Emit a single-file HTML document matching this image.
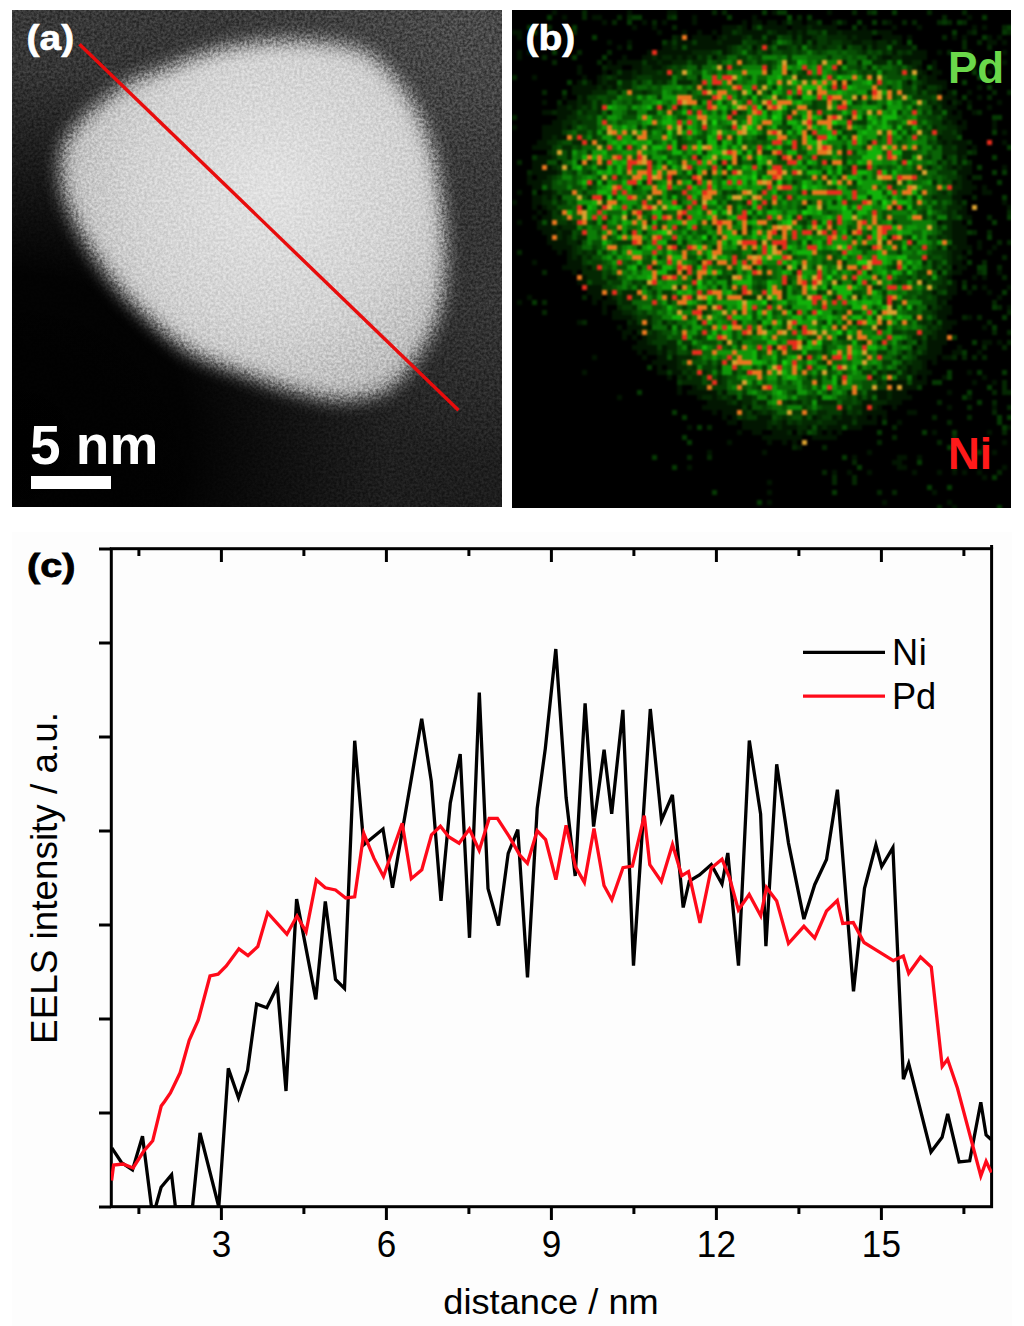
<!DOCTYPE html>
<html><head><meta charset="utf-8"><title>figure</title>
<style>
html,body{margin:0;padding:0;background:#fff;}
body{width:1024px;height:1326px;overflow:hidden;position:relative;}
svg{position:absolute;left:0;top:0;display:block;}
text{font-family:"Liberation Sans",sans-serif;}
</style></head><body>
<svg width="1024" height="1326" viewBox="0 0 1024 1326">
<defs>
<clipPath id="ca"><rect x="12" y="10" width="490" height="497"/></clipPath>
<clipPath id="cb"><rect x="512" y="10" width="499" height="498"/></clipPath>
<clipPath id="cc"><rect x="111" y="549" width="881" height="658"/></clipPath>
<filter color-interpolation-filters="sRGB" id="bA" x="-30%" y="-30%" width="160%" height="160%"><feGaussianBlur stdDeviation="9"/></filter>
<filter color-interpolation-filters="sRGB" id="soft" x="0" y="0" width="100%" height="100%"><feGaussianBlur stdDeviation="0.9"/></filter>
<filter color-interpolation-filters="sRGB" id="nA" x="12" y="10" width="490" height="497" filterUnits="userSpaceOnUse"><feTurbulence type="fractalNoise" baseFrequency="0.38" numOctaves="2" seed="5"/><feColorMatrix type="matrix" values="1.9 0 0 0 -0.45  1.9 0 0 0 -0.45  1.9 0 0 0 -0.45  0 0 0 0 1"/></filter>
<linearGradient id="bgAv" x1="0" y1="10" x2="0" y2="507" gradientUnits="userSpaceOnUse"><stop offset="0" stop-color="#383838"/><stop offset="1" stop-color="#1c1c1c"/></linearGradient>
<radialGradient id="bgAk" cx="20" cy="440" r="370" gradientUnits="userSpaceOnUse"><stop offset="0" stop-color="#000"/><stop offset="0.45" stop-color="#000" stop-opacity="0.95"/><stop offset="0.75" stop-color="#000" stop-opacity="0.45"/><stop offset="1" stop-color="#000" stop-opacity="0"/></radialGradient>
<radialGradient id="bgA1" cx="470" cy="20" r="260" gradientUnits="userSpaceOnUse"><stop offset="0" stop-color="#4a4a4a"/><stop offset="1" stop-color="#4a4a4a" stop-opacity="0"/></radialGradient>
<radialGradient id="bgA3" cx="500" cy="280" r="180" gradientUnits="userSpaceOnUse"><stop offset="0" stop-color="#363636"/><stop offset="1" stop-color="#363636" stop-opacity="0"/></radialGradient>
<radialGradient id="blA" cx="270" cy="190" r="230" gradientUnits="userSpaceOnUse"><stop offset="0" stop-color="#e2e2e2"/><stop offset="0.6" stop-color="#d2d2d2"/><stop offset="1" stop-color="#b8b8b8"/></radialGradient>
</defs>

<!-- panel a -->
<g clip-path="url(#ca)">
<rect x="12" y="10" width="490" height="497" fill="url(#bgAv)"/>
<rect x="12" y="10" width="490" height="497" fill="url(#bgA1)"/>
<rect x="12" y="10" width="490" height="497" fill="url(#bgA3)"/>
<rect x="12" y="10" width="490" height="497" fill="url(#bgAk)"/>
<path d="M155.5,72.2 C168.0,67.7 192.2,55.9 213.0,50.7 C233.8,45.5 257.7,41.9 280.0,41.1 C302.3,40.3 330.3,42.3 347.0,45.9 C363.7,49.5 369.2,52.6 380.4,62.6 C391.5,72.6 405.1,90.5 413.9,105.7 C422.7,120.9 428.2,135.9 433.0,153.5 C437.8,171.1 440.6,191.8 442.6,211.0 C444.6,230.2 445.8,250.9 445.0,268.4 C444.2,285.9 442.3,301.8 437.9,316.2 C433.5,330.6 426.7,342.5 418.7,354.5 C410.7,366.5 401.9,380.4 390.0,388.0 C378.1,395.6 362.2,399.2 347.0,400.0 C331.8,400.8 316.6,397.2 299.0,392.8 C281.4,388.4 259.2,380.0 241.7,373.6 C224.2,367.2 208.2,362.5 193.8,354.5 C179.4,346.5 168.2,337.0 155.5,325.8 C142.8,314.6 129.2,301.9 117.3,287.5 C105.3,273.1 92.8,255.6 83.8,239.7 C74.8,223.8 66.6,206.9 63.0,192.0 C59.4,177.1 59.2,161.8 62.0,150.0 C64.8,138.2 71.7,130.3 80.0,121.0 C88.3,111.7 102.3,101.2 112.0,94.0 C121.7,86.8 130.8,81.6 138.0,78.0 C145.2,74.4 143.0,76.8 155.5,72.2Z" fill="url(#blA)" filter="url(#bA)"/>
<rect x="12" y="10" width="490" height="497" filter="url(#nA)" style="mix-blend-mode:overlay" opacity="0.35"/>
<line x1="79.5" y1="44.2" x2="458.5" y2="410.3" stroke="#e80c0c" stroke-width="3.4"/>
</g>
<text transform="translate(26.5,50) scale(1.13,1)" font-size="34.5" font-weight="bold" fill="#fff" stroke="#fff" stroke-width="0.6">(a)</text>
<text x="30" y="463.5" font-size="55" font-weight="bold" fill="#fff">5 nm</text>
<rect x="31" y="476" width="80" height="13" fill="#fff"/>

<!-- panel b -->
<g clip-path="url(#cb)">
<rect x="512" y="10" width="499" height="498" fill="#000"/>
<g filter="url(#soft)">
<path fill="#021601" d="M552 10h5v5h-5zM627 10h5v5h-5zM667 10h10v5h-10zM772 10h5v5h-5zM827 10h5v5h-5zM562 15h5v5h-5zM592 15h10v5h-10zM692 15h5v5h-5zM752 15h5v5h-5zM967 15h5v5h-5zM602 20h5v5h-5zM642 20h5v5h-5zM662 20h5v5h-5zM692 20h5v5h-5zM742 20h5v5h-5zM752 20h10v5h-10zM767 20h10v5h-10zM782 20h5v5h-5zM792 20h10v5h-10zM807 20h10v5h-10zM832 20h5v5h-5zM842 20h5v5h-5zM887 20h5v5h-5zM632 25h5v5h-5zM652 25h5v5h-5zM722 25h15v5h-15zM742 25h5v5h-5zM762 25h25v5h-25zM792 25h15v5h-15zM812 25h25v5h-25zM862 25h5v5h-5zM892 25h5v5h-5zM917 25h5v5h-5zM972 25h5v5h-5zM982 25h5v5h-5zM512 30h10v5h-10zM657 30h5v5h-5zM682 30h5v5h-5zM697 30h5v5h-5zM712 30h5v5h-5zM722 30h10v5h-10zM742 30h25v5h-25zM777 30h10v5h-10zM792 30h5v5h-5zM802 30h5v5h-5zM827 30h10v5h-10zM842 30h30v5h-30zM877 30h15v5h-15zM967 30h5v5h-5zM517 35h5v5h-5zM677 35h5v5h-5zM692 35h20v5h-20zM717 35h5v5h-5zM727 35h15v5h-15zM752 35h10v5h-10zM767 35h10v5h-10zM792 35h5v5h-5zM802 35h10v5h-10zM847 35h5v5h-5zM857 35h15v5h-15zM882 35h20v5h-20zM907 35h5v5h-5zM952 35h5v5h-5zM962 35h5v5h-5zM987 35h5v5h-5zM997 35h5v5h-5zM607 40h5v5h-5zM627 40h5v5h-5zM667 40h5v5h-5zM677 40h15v5h-15zM697 40h20v5h-20zM722 40h20v5h-20zM767 40h5v5h-5zM802 40h5v5h-5zM812 40h5v5h-5zM852 40h10v5h-10zM872 40h5v5h-5zM887 40h5v5h-5zM897 40h5v5h-5zM987 40h10v5h-10zM1002 40h5v5h-5zM617 45h5v5h-5zM662 45h10v5h-10zM677 45h5v5h-5zM687 45h40v5h-40zM752 45h5v5h-5zM842 45h5v5h-5zM862 45h5v5h-5zM872 45h5v5h-5zM892 45h20v5h-20zM517 50h5v5h-5zM527 50h5v5h-5zM647 50h5v5h-5zM657 50h35v5h-35zM722 50h5v5h-5zM892 50h5v5h-5zM912 50h15v5h-15zM937 50h5v5h-5zM967 50h5v5h-5zM1002 50h5v5h-5zM517 55h5v5h-5zM622 55h5v5h-5zM642 55h10v5h-10zM657 55h5v5h-5zM672 55h5v5h-5zM682 55h5v5h-5zM692 55h5v5h-5zM712 55h5v5h-5zM882 55h10v5h-10zM902 55h25v5h-25zM607 60h5v5h-5zM617 60h25v5h-25zM647 60h10v5h-10zM662 60h10v5h-10zM902 60h10v5h-10zM932 60h5v5h-5zM987 60h5v5h-5zM1002 60h5v5h-5zM577 65h5v5h-5zM607 65h15v5h-15zM632 65h10v5h-10zM652 65h10v5h-10zM917 65h5v5h-5zM932 65h5v5h-5zM972 65h5v5h-5zM992 65h5v5h-5zM577 70h5v5h-5zM602 70h5v5h-5zM612 70h5v5h-5zM622 70h10v5h-10zM637 70h5v5h-5zM922 70h5v5h-5zM932 70h10v5h-10zM532 75h5v5h-5zM582 75h5v5h-5zM597 75h5v5h-5zM617 75h15v5h-15zM917 75h5v5h-5zM927 75h10v5h-10zM577 80h5v5h-5zM587 80h5v5h-5zM597 80h5v5h-5zM607 80h10v5h-10zM907 80h5v5h-5zM927 80h20v5h-20zM572 85h25v5h-25zM602 85h5v5h-5zM612 85h5v5h-5zM922 85h5v5h-5zM942 85h5v5h-5zM977 85h5v5h-5zM572 90h20v5h-20zM937 90h5v5h-5zM947 90h5v5h-5zM967 90h5v5h-5zM562 95h5v5h-5zM582 95h5v5h-5zM942 95h15v5h-15zM977 95h5v5h-5zM542 100h5v5h-5zM567 100h10v5h-10zM582 100h5v5h-5zM942 100h5v5h-5zM957 100h5v5h-5zM967 100h5v5h-5zM997 100h5v5h-5zM557 105h10v5h-10zM572 105h5v5h-5zM932 105h5v5h-5zM942 105h15v5h-15zM987 105h5v5h-5zM542 110h10v5h-10zM557 110h15v5h-15zM947 110h5v5h-5zM957 110h5v5h-5zM972 110h5v5h-5zM557 115h10v5h-10zM947 115h15v5h-15zM552 120h10v5h-10zM942 120h5v5h-5zM952 120h5v5h-5zM962 120h5v5h-5zM992 120h5v5h-5zM512 125h5v5h-5zM542 125h20v5h-20zM567 125h5v5h-5zM957 125h10v5h-10zM992 125h5v5h-5zM542 130h20v5h-20zM957 130h5v5h-5zM1002 130h5v5h-5zM542 135h10v5h-10zM557 135h10v5h-10zM937 135h5v5h-5zM537 140h10v5h-10zM942 140h5v5h-5zM952 140h15v5h-15zM1002 140h5v5h-5zM532 145h20v5h-20zM957 145h10v5h-10zM972 145h5v5h-5zM957 150h10v5h-10zM537 155h15v5h-15zM942 155h5v5h-5zM957 155h5v5h-5zM532 160h15v5h-15zM557 160h5v5h-5zM957 160h5v5h-5zM532 165h10v5h-10zM547 165h5v5h-5zM952 165h5v5h-5zM962 165h10v5h-10zM1002 165h5v5h-5zM532 170h25v5h-25zM957 170h15v5h-15zM527 175h5v5h-5zM537 175h10v5h-10zM962 175h5v5h-5zM527 180h15v5h-15zM952 180h5v5h-5zM962 180h10v5h-10zM532 185h10v5h-10zM962 185h15v5h-15zM982 185h5v5h-5zM517 190h5v5h-5zM542 190h10v5h-10zM957 190h15v5h-15zM982 190h10v5h-10zM532 195h10v5h-10zM547 195h5v5h-5zM557 195h5v5h-5zM952 195h10v5h-10zM512 200h5v5h-5zM532 200h10v5h-10zM957 200h5v5h-5zM1002 200h5v5h-5zM532 205h5v5h-5zM542 205h5v5h-5zM962 205h5v5h-5zM1007 205h5v5h-5zM537 210h5v5h-5zM547 210h5v5h-5zM957 210h10v5h-10zM532 215h5v5h-5zM542 215h10v5h-10zM962 215h10v5h-10zM517 220h5v5h-5zM537 220h5v5h-5zM547 220h5v5h-5zM937 220h5v5h-5zM952 220h10v5h-10zM537 225h15v5h-15zM557 225h5v5h-5zM952 225h15v5h-15zM542 230h15v5h-15zM562 230h10v5h-10zM952 230h15v5h-15zM547 235h5v5h-5zM562 235h5v5h-5zM952 235h15v5h-15zM547 240h20v5h-20zM577 240h5v5h-5zM952 240h15v5h-15zM977 240h5v5h-5zM552 245h20v5h-20zM947 245h5v5h-5zM957 245h15v5h-15zM977 245h5v5h-5zM992 245h5v5h-5zM557 250h5v5h-5zM567 250h5v5h-5zM952 250h10v5h-10zM987 250h5v5h-5zM567 255h5v5h-5zM577 255h5v5h-5zM952 255h5v5h-5zM962 255h5v5h-5zM532 260h5v5h-5zM567 260h15v5h-15zM952 260h10v5h-10zM562 265h20v5h-20zM587 265h5v5h-5zM957 265h10v5h-10zM572 270h5v5h-5zM937 270h5v5h-5zM952 270h10v5h-10zM997 270h5v5h-5zM582 275h5v5h-5zM947 275h5v5h-5zM972 275h5v5h-5zM982 275h5v5h-5zM577 280h10v5h-10zM952 280h5v5h-5zM587 285h15v5h-15zM947 285h10v5h-10zM982 285h5v5h-5zM1007 285h5v5h-5zM587 290h15v5h-15zM932 290h5v5h-5zM947 290h10v5h-10zM967 290h5v5h-5zM987 290h5v5h-5zM527 295h5v5h-5zM592 295h10v5h-10zM607 295h5v5h-5zM937 295h15v5h-15zM997 295h5v5h-5zM517 300h5v5h-5zM592 300h5v5h-5zM602 300h15v5h-15zM937 300h5v5h-5zM602 305h5v5h-5zM927 305h5v5h-5zM942 305h10v5h-10zM1007 305h5v5h-5zM602 310h5v5h-5zM612 310h10v5h-10zM937 310h15v5h-15zM612 315h20v5h-20zM937 315h10v5h-10zM967 315h5v5h-5zM577 320h5v5h-5zM632 320h5v5h-5zM932 320h5v5h-5zM942 320h15v5h-15zM617 325h5v5h-5zM627 325h15v5h-15zM647 325h5v5h-5zM942 325h10v5h-10zM982 325h5v5h-5zM622 330h10v5h-10zM937 330h10v5h-10zM622 335h5v5h-5zM632 335h5v5h-5zM642 335h5v5h-5zM927 335h5v5h-5zM937 335h10v5h-10zM637 340h10v5h-10zM917 340h5v5h-5zM927 340h20v5h-20zM982 340h10v5h-10zM997 340h5v5h-5zM632 345h25v5h-25zM662 345h5v5h-5zM912 345h5v5h-5zM927 345h15v5h-15zM957 345h5v5h-5zM637 350h5v5h-5zM647 350h10v5h-10zM662 350h5v5h-5zM927 350h15v5h-15zM952 350h10v5h-10zM977 350h5v5h-5zM592 355h5v5h-5zM642 355h5v5h-5zM657 355h10v5h-10zM672 355h5v5h-5zM917 355h20v5h-20zM942 355h10v5h-10zM652 360h25v5h-25zM922 360h5v5h-5zM932 360h5v5h-5zM657 365h5v5h-5zM667 365h10v5h-10zM907 365h5v5h-5zM922 365h5v5h-5zM582 370h5v5h-5zM657 370h10v5h-10zM672 370h10v5h-10zM907 370h5v5h-5zM917 370h15v5h-15zM967 370h5v5h-5zM667 375h5v5h-5zM682 375h5v5h-5zM912 375h5v5h-5zM922 375h5v5h-5zM942 375h5v5h-5zM982 375h5v5h-5zM887 380h20v5h-20zM912 380h15v5h-15zM972 380h5v5h-5zM992 380h5v5h-5zM677 385h5v5h-5zM692 385h5v5h-5zM892 385h5v5h-5zM902 385h15v5h-15zM677 390h5v5h-5zM687 390h30v5h-30zM722 390h5v5h-5zM877 390h10v5h-10zM892 390h15v5h-15zM947 390h5v5h-5zM617 395h5v5h-5zM697 395h5v5h-5zM712 395h5v5h-5zM732 395h5v5h-5zM877 395h10v5h-10zM892 395h20v5h-20zM967 395h5v5h-5zM707 400h20v5h-20zM737 400h5v5h-5zM862 400h10v5h-10zM887 400h15v5h-15zM702 405h40v5h-40zM747 405h5v5h-5zM862 405h5v5h-5zM877 405h5v5h-5zM892 405h5v5h-5zM947 405h5v5h-5zM992 405h5v5h-5zM712 410h5v5h-5zM722 410h15v5h-15zM752 410h5v5h-5zM842 410h5v5h-5zM862 410h25v5h-25zM907 410h10v5h-10zM722 415h5v5h-5zM732 415h5v5h-5zM757 415h15v5h-15zM812 415h5v5h-5zM832 415h5v5h-5zM842 415h10v5h-10zM857 415h10v5h-10zM872 415h5v5h-5zM882 415h5v5h-5zM727 420h10v5h-10zM742 420h25v5h-25zM782 420h5v5h-5zM837 420h15v5h-15zM857 420h20v5h-20zM897 420h5v5h-5zM687 425h5v5h-5zM742 425h25v5h-25zM772 425h5v5h-5zM782 425h15v5h-15zM807 425h5v5h-5zM817 425h5v5h-5zM827 425h15v5h-15zM847 425h15v5h-15zM1007 425h5v5h-5zM737 430h5v5h-5zM752 430h10v5h-10zM772 430h15v5h-15zM802 430h5v5h-5zM817 430h5v5h-5zM827 430h5v5h-5zM837 430h5v5h-5zM932 430h5v5h-5zM987 430h5v5h-5zM762 435h40v5h-40zM812 435h25v5h-25zM727 440h5v5h-5zM767 440h5v5h-5zM782 440h5v5h-5zM792 440h5v5h-5zM1002 440h5v5h-5zM797 445h5v5h-5zM972 445h5v5h-5zM707 450h5v5h-5zM762 450h5v5h-5zM867 450h5v5h-5zM992 450h5v5h-5zM852 455h5v5h-5zM897 455h10v5h-10zM917 455h5v5h-5zM892 460h10v5h-10zM687 465h5v5h-5zM897 465h10v5h-10zM1002 465h5v5h-5zM832 470h5v5h-5zM847 470h5v5h-5zM867 470h5v5h-5zM912 470h5v5h-5zM937 470h5v5h-5zM952 470h5v5h-5zM962 470h5v5h-5zM977 470h5v5h-5zM982 475h5v5h-5zM767 480h5v5h-5zM767 490h5v5h-5zM932 490h5v5h-5zM767 500h5v5h-5zM882 500h5v5h-5zM947 500h5v5h-5zM952 505h5v5h-5z"/>
<path fill="#042802" d="M582 10h5v5h-5zM712 10h5v5h-5zM722 10h5v5h-5zM852 10h5v5h-5zM867 10h5v5h-5zM927 10h5v5h-5zM962 10h5v5h-5zM582 15h5v5h-5zM617 15h5v5h-5zM627 15h5v5h-5zM667 15h5v5h-5zM797 15h5v5h-5zM942 15h5v5h-5zM612 20h5v5h-5zM652 20h5v5h-5zM882 20h5v5h-5zM902 20h5v5h-5zM912 20h5v5h-5zM937 20h5v5h-5zM947 20h5v5h-5zM962 20h5v5h-5zM547 25h5v5h-5zM672 25h5v5h-5zM737 25h5v5h-5zM752 25h5v5h-5zM807 25h5v5h-5zM1002 25h5v5h-5zM572 30h5v5h-5zM737 30h5v5h-5zM772 30h5v5h-5zM787 30h5v5h-5zM797 30h5v5h-5zM817 30h5v5h-5zM837 30h5v5h-5zM972 30h5v5h-5zM1007 30h5v5h-5zM672 35h5v5h-5zM722 35h5v5h-5zM742 35h5v5h-5zM812 35h5v5h-5zM827 35h20v5h-20zM852 35h5v5h-5zM942 35h5v5h-5zM717 40h5v5h-5zM757 40h10v5h-10zM792 40h5v5h-5zM827 40h5v5h-5zM842 40h10v5h-10zM862 40h10v5h-10zM877 40h10v5h-10zM962 40h5v5h-5zM977 40h5v5h-5zM627 45h5v5h-5zM672 45h5v5h-5zM727 45h5v5h-5zM777 45h10v5h-10zM797 45h5v5h-5zM812 45h5v5h-5zM822 45h5v5h-5zM877 45h10v5h-10zM962 45h5v5h-5zM987 45h5v5h-5zM577 50h5v5h-5zM607 50h5v5h-5zM692 50h20v5h-20zM727 50h5v5h-5zM752 50h5v5h-5zM767 50h5v5h-5zM862 50h5v5h-5zM882 50h5v5h-5zM902 50h5v5h-5zM947 50h5v5h-5zM542 55h5v5h-5zM652 55h5v5h-5zM662 55h10v5h-10zM677 55h5v5h-5zM687 55h5v5h-5zM702 55h5v5h-5zM867 55h5v5h-5zM877 55h5v5h-5zM892 55h10v5h-10zM552 60h5v5h-5zM597 60h5v5h-5zM657 60h5v5h-5zM672 60h15v5h-15zM692 60h15v5h-15zM842 60h5v5h-5zM857 60h5v5h-5zM872 60h15v5h-15zM892 60h5v5h-5zM912 60h10v5h-10zM972 60h5v5h-5zM602 65h5v5h-5zM642 65h10v5h-10zM662 65h5v5h-5zM697 65h5v5h-5zM867 65h5v5h-5zM912 65h5v5h-5zM952 65h5v5h-5zM632 70h5v5h-5zM642 70h15v5h-15zM662 70h5v5h-5zM917 70h5v5h-5zM987 70h5v5h-5zM512 75h5v5h-5zM602 75h5v5h-5zM612 75h5v5h-5zM632 75h5v5h-5zM652 75h20v5h-20zM697 75h5v5h-5zM922 75h5v5h-5zM602 80h5v5h-5zM622 80h10v5h-10zM637 80h5v5h-5zM652 80h5v5h-5zM662 80h5v5h-5zM677 80h15v5h-15zM922 80h5v5h-5zM597 85h5v5h-5zM607 85h5v5h-5zM622 85h10v5h-10zM917 85h5v5h-5zM937 85h5v5h-5zM542 90h5v5h-5zM592 90h15v5h-15zM617 90h5v5h-5zM642 90h5v5h-5zM917 90h5v5h-5zM927 90h10v5h-10zM992 90h5v5h-5zM1007 90h5v5h-5zM577 95h5v5h-5zM987 95h5v5h-5zM557 100h5v5h-5zM577 100h5v5h-5zM587 100h5v5h-5zM597 100h5v5h-5zM927 100h5v5h-5zM937 100h5v5h-5zM952 100h5v5h-5zM567 105h5v5h-5zM577 105h5v5h-5zM587 105h5v5h-5zM597 105h5v5h-5zM967 105h5v5h-5zM552 110h5v5h-5zM572 110h5v5h-5zM582 110h5v5h-5zM597 110h5v5h-5zM607 110h5v5h-5zM932 110h10v5h-10zM977 110h5v5h-5zM512 115h5v5h-5zM567 115h10v5h-10zM942 115h5v5h-5zM562 120h10v5h-10zM577 120h5v5h-5zM947 120h5v5h-5zM562 125h5v5h-5zM932 125h5v5h-5zM947 125h10v5h-10zM942 130h10v5h-10zM552 135h5v5h-5zM942 135h15v5h-15zM547 140h10v5h-10zM572 140h10v5h-10zM937 140h5v5h-5zM947 140h5v5h-5zM967 140h5v5h-5zM562 145h10v5h-10zM942 145h10v5h-10zM547 150h5v5h-5zM567 150h5v5h-5zM942 150h15v5h-15zM972 150h5v5h-5zM552 155h5v5h-5zM567 155h5v5h-5zM962 155h5v5h-5zM517 160h5v5h-5zM577 160h5v5h-5zM937 160h5v5h-5zM947 160h5v5h-5zM967 160h5v5h-5zM552 165h5v5h-5zM927 165h5v5h-5zM947 165h5v5h-5zM957 165h5v5h-5zM527 170h5v5h-5zM557 170h5v5h-5zM547 175h5v5h-5zM957 175h5v5h-5zM972 175h10v5h-10zM542 180h10v5h-10zM932 180h5v5h-5zM957 180h5v5h-5zM547 185h5v5h-5zM952 185h10v5h-10zM552 190h5v5h-5zM942 190h5v5h-5zM952 190h5v5h-5zM542 195h5v5h-5zM932 195h5v5h-5zM972 195h5v5h-5zM542 200h10v5h-10zM557 200h5v5h-5zM952 200h5v5h-5zM547 205h10v5h-10zM582 205h5v5h-5zM947 205h15v5h-15zM557 210h5v5h-5zM947 210h5v5h-5zM1007 210h5v5h-5zM947 215h5v5h-5zM987 215h5v5h-5zM567 220h5v5h-5zM942 220h10v5h-10zM552 225h5v5h-5zM562 225h15v5h-15zM947 225h5v5h-5zM557 230h5v5h-5zM942 230h10v5h-10zM972 230h5v5h-5zM987 230h5v5h-5zM557 235h5v5h-5zM567 235h5v5h-5zM577 235h10v5h-10zM937 235h5v5h-5zM947 235h5v5h-5zM567 240h10v5h-10zM997 240h5v5h-5zM1007 240h5v5h-5zM572 245h5v5h-5zM937 245h5v5h-5zM952 245h5v5h-5zM517 250h5v5h-5zM572 250h5v5h-5zM582 250h5v5h-5zM592 250h5v5h-5zM947 250h5v5h-5zM967 250h5v5h-5zM572 255h5v5h-5zM587 255h5v5h-5zM947 255h5v5h-5zM957 255h5v5h-5zM1002 255h5v5h-5zM922 260h5v5h-5zM932 260h5v5h-5zM947 260h5v5h-5zM982 260h5v5h-5zM582 265h5v5h-5zM932 265h5v5h-5zM942 265h5v5h-5zM997 265h5v5h-5zM542 270h5v5h-5zM582 270h20v5h-20zM947 270h5v5h-5zM977 270h5v5h-5zM587 275h15v5h-15zM607 275h10v5h-10zM942 275h5v5h-5zM1002 275h5v5h-5zM592 280h15v5h-15zM922 280h5v5h-5zM942 280h5v5h-5zM962 280h5v5h-5zM937 285h10v5h-10zM972 285h5v5h-5zM607 290h5v5h-5zM622 290h15v5h-15zM582 295h5v5h-5zM612 295h5v5h-5zM622 295h5v5h-5zM542 300h5v5h-5zM622 300h10v5h-10zM942 300h5v5h-5zM992 300h5v5h-5zM617 305h5v5h-5zM632 305h5v5h-5zM937 305h5v5h-5zM997 305h5v5h-5zM542 310h5v5h-5zM622 310h10v5h-10zM932 310h5v5h-5zM1007 310h5v5h-5zM632 315h5v5h-5zM647 315h5v5h-5zM962 315h5v5h-5zM977 315h5v5h-5zM582 320h5v5h-5zM627 320h5v5h-5zM647 320h5v5h-5zM662 320h5v5h-5zM922 320h5v5h-5zM987 320h5v5h-5zM642 325h5v5h-5zM667 325h5v5h-5zM927 325h5v5h-5zM937 325h5v5h-5zM637 330h5v5h-5zM652 330h5v5h-5zM932 330h5v5h-5zM992 330h5v5h-5zM1007 330h5v5h-5zM647 335h10v5h-10zM912 335h10v5h-10zM932 335h5v5h-5zM647 340h5v5h-5zM667 340h10v5h-10zM902 340h5v5h-5zM1007 340h5v5h-5zM667 345h10v5h-10zM687 345h5v5h-5zM982 345h5v5h-5zM1002 345h5v5h-5zM657 350h5v5h-5zM672 350h5v5h-5zM902 350h5v5h-5zM912 350h5v5h-5zM922 350h5v5h-5zM677 355h15v5h-15zM897 355h5v5h-5zM952 355h5v5h-5zM962 355h5v5h-5zM972 355h5v5h-5zM982 355h5v5h-5zM677 360h5v5h-5zM902 360h5v5h-5zM912 360h10v5h-10zM677 365h10v5h-10zM692 365h5v5h-5zM717 365h5v5h-5zM897 365h5v5h-5zM912 365h10v5h-10zM687 370h5v5h-5zM702 370h5v5h-5zM877 370h5v5h-5zM887 370h10v5h-10zM902 370h5v5h-5zM912 370h5v5h-5zM677 375h5v5h-5zM692 375h10v5h-10zM717 375h5v5h-5zM872 375h5v5h-5zM897 375h10v5h-10zM682 380h20v5h-20zM717 380h5v5h-5zM877 380h5v5h-5zM1002 380h5v5h-5zM697 385h10v5h-10zM1002 385h5v5h-5zM847 390h5v5h-5zM867 390h10v5h-10zM887 390h5v5h-5zM992 390h5v5h-5zM1002 390h10v5h-10zM702 395h10v5h-10zM717 395h5v5h-5zM727 395h5v5h-5zM742 395h10v5h-10zM817 395h5v5h-5zM857 395h5v5h-5zM867 395h5v5h-5zM887 395h5v5h-5zM727 400h5v5h-5zM742 400h10v5h-10zM757 400h10v5h-10zM787 400h5v5h-5zM797 400h5v5h-5zM817 400h20v5h-20zM872 400h15v5h-15zM937 400h5v5h-5zM992 400h5v5h-5zM842 405h5v5h-5zM852 405h10v5h-10zM872 405h5v5h-5zM967 405h5v5h-5zM1007 405h5v5h-5zM742 410h5v5h-5zM757 410h5v5h-5zM767 410h5v5h-5zM817 410h10v5h-10zM852 410h5v5h-5zM992 410h5v5h-5zM742 415h5v5h-5zM782 415h5v5h-5zM802 415h5v5h-5zM817 415h5v5h-5zM837 415h5v5h-5zM852 415h5v5h-5zM932 415h5v5h-5zM967 415h5v5h-5zM767 420h5v5h-5zM777 420h5v5h-5zM792 420h5v5h-5zM802 420h15v5h-15zM822 420h15v5h-15zM947 420h5v5h-5zM707 425h5v5h-5zM767 425h5v5h-5zM777 425h5v5h-5zM797 425h10v5h-10zM822 425h5v5h-5zM892 425h5v5h-5zM787 430h5v5h-5zM797 430h5v5h-5zM1002 430h5v5h-5zM892 435h5v5h-5zM952 435h5v5h-5zM877 440h5v5h-5zM937 440h5v5h-5zM792 445h5v5h-5zM822 445h5v5h-5zM982 445h5v5h-5zM687 455h5v5h-5zM707 455h5v5h-5zM852 460h5v5h-5zM952 465h5v5h-5zM822 470h5v5h-5zM997 470h5v5h-5zM832 475h5v5h-5zM852 475h5v5h-5zM832 480h5v5h-5zM852 480h5v5h-5zM877 490h5v5h-5zM892 490h5v5h-5zM937 505h5v5h-5z"/>
<path fill="#053a03" d="M762 10h5v5h-5zM777 10h10v5h-10zM872 10h5v5h-5zM892 10h5v5h-5zM547 15h5v5h-5zM632 15h10v5h-10zM672 15h5v5h-5zM727 15h5v5h-5zM807 15h5v5h-5zM982 15h5v5h-5zM627 20h5v5h-5zM787 20h5v5h-5zM817 20h5v5h-5zM837 20h5v5h-5zM857 20h5v5h-5zM872 20h5v5h-5zM942 20h5v5h-5zM957 20h5v5h-5zM527 25h5v5h-5zM572 25h5v5h-5zM852 25h5v5h-5zM1007 25h5v5h-5zM532 30h5v5h-5zM732 30h5v5h-5zM767 30h5v5h-5zM807 30h10v5h-10zM872 30h5v5h-5zM952 30h5v5h-5zM1002 30h5v5h-5zM592 35h5v5h-5zM747 35h5v5h-5zM782 35h10v5h-10zM797 35h5v5h-5zM817 35h10v5h-10zM982 35h5v5h-5zM662 40h5v5h-5zM672 40h5v5h-5zM692 40h5v5h-5zM747 40h10v5h-10zM772 40h5v5h-5zM797 40h5v5h-5zM817 40h10v5h-10zM832 40h10v5h-10zM892 40h5v5h-5zM732 45h5v5h-5zM742 45h5v5h-5zM757 45h5v5h-5zM767 45h5v5h-5zM787 45h5v5h-5zM807 45h5v5h-5zM817 45h5v5h-5zM827 45h10v5h-10zM852 45h10v5h-10zM867 45h5v5h-5zM912 45h5v5h-5zM552 50h5v5h-5zM712 50h5v5h-5zM732 50h5v5h-5zM747 50h5v5h-5zM762 50h5v5h-5zM782 50h10v5h-10zM797 50h5v5h-5zM817 50h5v5h-5zM857 50h5v5h-5zM872 50h5v5h-5zM887 50h5v5h-5zM897 50h5v5h-5zM907 50h5v5h-5zM572 55h5v5h-5zM602 55h5v5h-5zM697 55h5v5h-5zM717 55h10v5h-10zM737 55h10v5h-10zM757 55h5v5h-5zM787 55h5v5h-5zM827 55h5v5h-5zM642 60h5v5h-5zM717 60h5v5h-5zM742 60h5v5h-5zM757 60h5v5h-5zM767 60h5v5h-5zM787 60h5v5h-5zM667 65h5v5h-5zM677 65h5v5h-5zM722 65h5v5h-5zM767 65h5v5h-5zM837 65h5v5h-5zM857 65h5v5h-5zM897 65h5v5h-5zM907 65h5v5h-5zM617 70h5v5h-5zM657 70h5v5h-5zM672 70h5v5h-5zM767 70h5v5h-5zM787 70h5v5h-5zM802 70h5v5h-5zM837 70h5v5h-5zM862 70h5v5h-5zM872 70h5v5h-5zM882 70h5v5h-5zM897 70h5v5h-5zM907 70h5v5h-5zM972 70h5v5h-5zM607 75h5v5h-5zM637 75h15v5h-15zM682 75h5v5h-5zM797 75h5v5h-5zM872 75h5v5h-5zM977 75h5v5h-5zM567 80h5v5h-5zM582 80h5v5h-5zM657 80h5v5h-5zM697 80h5v5h-5zM837 80h5v5h-5zM847 80h5v5h-5zM902 80h5v5h-5zM917 80h5v5h-5zM962 80h5v5h-5zM617 85h5v5h-5zM712 85h5v5h-5zM772 85h5v5h-5zM887 85h5v5h-5zM902 85h10v5h-10zM927 85h10v5h-10zM987 85h5v5h-5zM562 90h5v5h-5zM632 90h10v5h-10zM647 90h5v5h-5zM687 90h5v5h-5zM752 90h5v5h-5zM767 90h5v5h-5zM867 90h5v5h-5zM902 90h10v5h-10zM952 90h5v5h-5zM587 95h10v5h-10zM607 95h10v5h-10zM657 95h5v5h-5zM797 95h5v5h-5zM857 95h5v5h-5zM912 95h20v5h-20zM962 95h5v5h-5zM607 100h5v5h-5zM632 100h5v5h-5zM697 100h5v5h-5zM812 100h5v5h-5zM852 100h5v5h-5zM867 100h5v5h-5zM932 100h5v5h-5zM582 105h5v5h-5zM662 105h5v5h-5zM677 105h5v5h-5zM762 105h5v5h-5zM812 105h5v5h-5zM882 105h5v5h-5zM912 105h5v5h-5zM937 105h5v5h-5zM587 110h10v5h-10zM627 110h10v5h-10zM647 110h10v5h-10zM727 110h5v5h-5zM737 110h5v5h-5zM787 110h5v5h-5zM897 110h5v5h-5zM922 110h5v5h-5zM577 115h10v5h-10zM592 115h5v5h-5zM822 115h5v5h-5zM847 115h5v5h-5zM862 115h5v5h-5zM927 115h10v5h-10zM992 115h10v5h-10zM572 120h5v5h-5zM582 120h15v5h-15zM782 120h5v5h-5zM857 120h10v5h-10zM932 120h10v5h-10zM572 125h5v5h-5zM587 125h10v5h-10zM637 125h5v5h-5zM647 125h5v5h-5zM787 125h5v5h-5zM837 125h5v5h-5zM922 125h5v5h-5zM937 125h10v5h-10zM562 130h5v5h-5zM577 130h10v5h-10zM592 130h5v5h-5zM807 130h5v5h-5zM842 130h5v5h-5zM852 130h5v5h-5zM907 130h5v5h-5zM927 130h5v5h-5zM937 130h5v5h-5zM952 130h5v5h-5zM992 130h5v5h-5zM592 135h5v5h-5zM677 135h5v5h-5zM757 135h10v5h-10zM837 135h5v5h-5zM557 140h5v5h-5zM587 140h5v5h-5zM602 140h5v5h-5zM677 140h5v5h-5zM702 140h5v5h-5zM717 140h5v5h-5zM867 140h5v5h-5zM927 140h5v5h-5zM552 145h5v5h-5zM577 145h5v5h-5zM677 145h5v5h-5zM842 145h5v5h-5zM932 145h5v5h-5zM952 145h5v5h-5zM1007 145h5v5h-5zM552 150h5v5h-5zM587 150h5v5h-5zM702 150h5v5h-5zM762 150h10v5h-10zM842 150h5v5h-5zM902 150h10v5h-10zM967 150h5v5h-5zM532 155h5v5h-5zM697 155h5v5h-5zM737 155h5v5h-5zM777 155h5v5h-5zM842 155h5v5h-5zM902 155h10v5h-10zM927 155h5v5h-5zM947 155h5v5h-5zM992 155h5v5h-5zM587 160h5v5h-5zM717 160h5v5h-5zM737 160h5v5h-5zM752 160h5v5h-5zM827 160h5v5h-5zM842 160h5v5h-5zM557 165h5v5h-5zM567 165h5v5h-5zM602 165h5v5h-5zM722 165h5v5h-5zM762 165h5v5h-5zM807 165h5v5h-5zM847 165h5v5h-5zM862 165h5v5h-5zM942 165h5v5h-5zM977 165h5v5h-5zM572 170h5v5h-5zM587 170h5v5h-5zM692 170h5v5h-5zM707 170h5v5h-5zM822 170h5v5h-5zM842 170h5v5h-5zM917 170h5v5h-5zM937 170h15v5h-15zM992 170h5v5h-5zM1002 170h5v5h-5zM552 175h5v5h-5zM672 175h5v5h-5zM707 175h5v5h-5zM722 175h5v5h-5zM947 175h10v5h-10zM592 180h5v5h-5zM602 180h5v5h-5zM642 180h5v5h-5zM692 180h5v5h-5zM792 180h5v5h-5zM852 180h5v5h-5zM892 180h5v5h-5zM942 180h5v5h-5zM997 180h5v5h-5zM587 185h5v5h-5zM632 185h5v5h-5zM532 190h5v5h-5zM562 190h10v5h-10zM582 190h5v5h-5zM672 190h5v5h-5zM722 190h5v5h-5zM732 190h5v5h-5zM937 190h5v5h-5zM552 195h5v5h-5zM587 195h5v5h-5zM602 195h5v5h-5zM867 195h5v5h-5zM912 195h5v5h-5zM937 195h15v5h-15zM1002 195h5v5h-5zM562 200h5v5h-5zM677 200h5v5h-5zM727 200h5v5h-5zM742 200h5v5h-5zM807 200h5v5h-5zM832 200h5v5h-5zM937 200h5v5h-5zM962 200h5v5h-5zM767 205h5v5h-5zM802 205h5v5h-5zM892 205h5v5h-5zM902 205h5v5h-5zM932 205h10v5h-10zM552 210h5v5h-5zM922 210h5v5h-5zM942 210h5v5h-5zM952 210h5v5h-5zM552 215h10v5h-10zM627 215h5v5h-5zM682 215h5v5h-5zM747 215h5v5h-5zM807 215h5v5h-5zM922 215h5v5h-5zM932 215h5v5h-5zM952 215h5v5h-5zM1007 215h5v5h-5zM557 220h10v5h-10zM572 220h5v5h-5zM592 220h5v5h-5zM602 220h5v5h-5zM647 220h5v5h-5zM772 220h5v5h-5zM802 220h5v5h-5zM892 220h5v5h-5zM967 220h5v5h-5zM992 220h5v5h-5zM712 225h5v5h-5zM747 225h5v5h-5zM937 225h5v5h-5zM577 230h5v5h-5zM617 230h5v5h-5zM627 230h5v5h-5zM642 230h5v5h-5zM737 230h5v5h-5zM777 230h5v5h-5zM847 230h5v5h-5zM967 230h5v5h-5zM707 235h5v5h-5zM887 235h5v5h-5zM907 235h5v5h-5zM927 235h5v5h-5zM942 235h5v5h-5zM987 235h5v5h-5zM617 240h15v5h-15zM667 240h10v5h-10zM682 240h5v5h-5zM807 240h5v5h-5zM912 240h5v5h-5zM577 245h5v5h-5zM592 245h5v5h-5zM637 245h5v5h-5zM677 245h5v5h-5zM712 245h5v5h-5zM777 245h5v5h-5zM867 245h5v5h-5zM577 250h5v5h-5zM587 250h5v5h-5zM602 250h5v5h-5zM752 250h5v5h-5zM897 250h5v5h-5zM932 250h15v5h-15zM582 255h5v5h-5zM657 255h5v5h-5zM927 255h5v5h-5zM942 255h5v5h-5zM582 260h5v5h-5zM592 260h10v5h-10zM697 260h5v5h-5zM842 260h5v5h-5zM937 260h5v5h-5zM967 260h5v5h-5zM592 265h5v5h-5zM637 265h5v5h-5zM652 265h5v5h-5zM752 265h5v5h-5zM762 265h5v5h-5zM782 265h5v5h-5zM797 265h5v5h-5zM892 265h5v5h-5zM947 265h5v5h-5zM977 265h10v5h-10zM607 270h5v5h-5zM672 270h5v5h-5zM682 270h5v5h-5zM732 270h5v5h-5zM792 270h5v5h-5zM867 270h5v5h-5zM917 270h10v5h-10zM982 270h5v5h-5zM692 275h5v5h-5zM717 275h5v5h-5zM727 275h5v5h-5zM762 275h5v5h-5zM907 275h5v5h-5zM917 275h5v5h-5zM927 275h5v5h-5zM937 275h5v5h-5zM612 280h10v5h-10zM632 280h5v5h-5zM642 280h5v5h-5zM727 280h5v5h-5zM787 280h5v5h-5zM837 280h5v5h-5zM852 280h5v5h-5zM897 280h5v5h-5zM932 280h10v5h-10zM602 285h10v5h-10zM637 285h5v5h-5zM647 285h5v5h-5zM677 285h5v5h-5zM717 285h5v5h-5zM757 285h5v5h-5zM782 285h5v5h-5zM827 285h5v5h-5zM872 285h10v5h-10zM962 285h5v5h-5zM652 290h5v5h-5zM662 290h10v5h-10zM737 290h5v5h-5zM782 290h5v5h-5zM817 290h5v5h-5zM882 290h5v5h-5zM922 290h10v5h-10zM937 290h5v5h-5zM1002 290h5v5h-5zM617 295h5v5h-5zM632 295h10v5h-10zM667 295h5v5h-5zM742 295h15v5h-15zM782 295h5v5h-5zM832 295h5v5h-5zM857 295h5v5h-5zM917 295h10v5h-10zM932 295h5v5h-5zM532 300h5v5h-5zM617 300h5v5h-5zM667 300h5v5h-5zM767 300h5v5h-5zM882 300h5v5h-5zM892 300h5v5h-5zM922 300h15v5h-15zM622 305h10v5h-10zM682 305h5v5h-5zM787 305h5v5h-5zM892 305h5v5h-5zM912 305h5v5h-5zM932 305h5v5h-5zM992 305h5v5h-5zM632 310h5v5h-5zM642 310h5v5h-5zM702 310h5v5h-5zM792 310h5v5h-5zM832 310h5v5h-5zM877 310h5v5h-5zM922 310h10v5h-10zM637 315h10v5h-10zM912 315h5v5h-5zM922 315h5v5h-5zM932 315h5v5h-5zM1002 315h5v5h-5zM637 320h5v5h-5zM672 320h5v5h-5zM697 320h5v5h-5zM737 320h5v5h-5zM757 320h5v5h-5zM822 320h5v5h-5zM852 320h5v5h-5zM882 320h5v5h-5zM917 320h5v5h-5zM927 320h5v5h-5zM677 325h5v5h-5zM767 325h5v5h-5zM797 325h5v5h-5zM877 325h10v5h-10zM932 325h5v5h-5zM992 325h5v5h-5zM647 330h5v5h-5zM657 330h5v5h-5zM892 330h10v5h-10zM907 330h10v5h-10zM922 330h10v5h-10zM657 335h10v5h-10zM697 335h5v5h-5zM837 335h10v5h-10zM952 335h5v5h-5zM652 340h15v5h-15zM682 340h10v5h-10zM722 340h5v5h-5zM737 340h5v5h-5zM802 340h5v5h-5zM862 340h5v5h-5zM877 340h5v5h-5zM922 340h5v5h-5zM972 340h5v5h-5zM657 345h5v5h-5zM772 345h5v5h-5zM822 345h5v5h-5zM887 345h5v5h-5zM917 345h10v5h-10zM667 350h5v5h-5zM687 350h5v5h-5zM822 350h5v5h-5zM877 350h10v5h-10zM962 350h5v5h-5zM692 355h5v5h-5zM802 355h5v5h-5zM912 355h5v5h-5zM707 360h5v5h-5zM717 360h5v5h-5zM822 360h5v5h-5zM882 360h10v5h-10zM907 360h5v5h-5zM647 365h5v5h-5zM687 365h5v5h-5zM702 365h10v5h-10zM762 365h5v5h-5zM827 365h5v5h-5zM857 365h5v5h-5zM872 365h5v5h-5zM902 365h5v5h-5zM667 370h5v5h-5zM682 370h5v5h-5zM692 370h5v5h-5zM707 370h5v5h-5zM717 370h5v5h-5zM732 370h5v5h-5zM862 370h10v5h-10zM882 370h5v5h-5zM947 370h5v5h-5zM977 370h5v5h-5zM1002 370h5v5h-5zM687 375h5v5h-5zM722 375h5v5h-5zM807 375h5v5h-5zM817 375h5v5h-5zM877 375h5v5h-5zM947 375h5v5h-5zM677 380h5v5h-5zM707 380h5v5h-5zM722 380h5v5h-5zM817 380h5v5h-5zM837 380h5v5h-5zM882 380h5v5h-5zM932 380h10v5h-10zM712 385h15v5h-15zM757 385h5v5h-5zM877 385h10v5h-10zM917 385h5v5h-5zM987 385h5v5h-5zM637 390h5v5h-5zM717 390h5v5h-5zM742 390h5v5h-5zM792 390h5v5h-5zM827 390h5v5h-5zM857 390h5v5h-5zM967 390h5v5h-5zM722 395h5v5h-5zM752 395h5v5h-5zM767 395h5v5h-5zM807 395h5v5h-5zM847 395h5v5h-5zM962 395h5v5h-5zM732 400h5v5h-5zM782 400h5v5h-5zM792 400h5v5h-5zM807 400h5v5h-5zM842 400h10v5h-10zM857 400h5v5h-5zM977 400h5v5h-5zM742 405h5v5h-5zM762 405h5v5h-5zM802 405h5v5h-5zM822 405h15v5h-15zM672 410h5v5h-5zM747 410h5v5h-5zM762 410h5v5h-5zM772 410h5v5h-5zM792 410h10v5h-10zM807 410h5v5h-5zM827 410h15v5h-15zM847 410h5v5h-5zM857 410h5v5h-5zM682 415h5v5h-5zM737 415h5v5h-5zM747 415h10v5h-10zM777 415h5v5h-5zM787 415h5v5h-5zM822 415h10v5h-10zM997 415h5v5h-5zM1007 415h5v5h-5zM772 420h5v5h-5zM787 420h5v5h-5zM797 420h5v5h-5zM817 420h5v5h-5zM852 420h5v5h-5zM882 420h5v5h-5zM997 420h5v5h-5zM697 425h5v5h-5zM1002 425h5v5h-5zM812 430h5v5h-5zM877 430h5v5h-5zM922 430h5v5h-5zM952 430h5v5h-5zM682 435h5v5h-5zM687 440h5v5h-5zM947 445h5v5h-5zM977 450h5v5h-5zM652 455h5v5h-5zM842 455h5v5h-5zM972 455h5v5h-5zM917 460h5v5h-5zM672 465h5v5h-5zM857 465h5v5h-5zM992 475h5v5h-5zM927 485h5v5h-5zM947 485h5v5h-5zM712 490h5v5h-5zM832 490h5v5h-5zM757 500h5v5h-5zM997 505h5v5h-5z"/>
<path fill="#074e04" d="M787 15h5v5h-5zM757 25h5v5h-5zM822 30h5v5h-5zM762 35h5v5h-5zM777 35h5v5h-5zM742 40h5v5h-5zM787 40h5v5h-5zM807 40h5v5h-5zM907 40h5v5h-5zM682 45h5v5h-5zM737 45h5v5h-5zM747 45h5v5h-5zM792 45h5v5h-5zM837 45h5v5h-5zM847 45h5v5h-5zM717 50h5v5h-5zM737 50h5v5h-5zM757 50h5v5h-5zM772 50h10v5h-10zM792 50h5v5h-5zM802 50h5v5h-5zM812 50h5v5h-5zM822 50h5v5h-5zM837 50h5v5h-5zM847 50h10v5h-10zM867 50h5v5h-5zM877 50h5v5h-5zM707 55h5v5h-5zM752 55h5v5h-5zM842 55h5v5h-5zM852 55h5v5h-5zM872 55h5v5h-5zM687 60h5v5h-5zM712 60h5v5h-5zM732 60h5v5h-5zM747 60h5v5h-5zM762 60h5v5h-5zM772 60h5v5h-5zM792 60h5v5h-5zM817 60h5v5h-5zM672 65h5v5h-5zM682 65h5v5h-5zM732 65h10v5h-10zM847 65h10v5h-10zM877 65h5v5h-5zM892 65h5v5h-5zM927 65h5v5h-5zM677 70h5v5h-5zM692 70h10v5h-10zM712 70h5v5h-5zM722 70h5v5h-5zM797 70h5v5h-5zM842 70h5v5h-5zM857 70h5v5h-5zM867 70h5v5h-5zM887 70h10v5h-10zM677 75h5v5h-5zM747 75h5v5h-5zM802 75h10v5h-10zM817 75h5v5h-5zM862 75h5v5h-5zM887 75h15v5h-15zM907 75h5v5h-5zM632 80h5v5h-5zM642 80h5v5h-5zM667 80h5v5h-5zM692 80h5v5h-5zM732 80h5v5h-5zM757 80h10v5h-10zM872 80h5v5h-5zM912 80h5v5h-5zM632 85h5v5h-5zM647 85h5v5h-5zM657 85h5v5h-5zM692 85h5v5h-5zM702 85h5v5h-5zM837 85h5v5h-5zM607 90h10v5h-10zM652 90h10v5h-10zM672 90h5v5h-5zM737 90h5v5h-5zM812 90h5v5h-5zM892 90h5v5h-5zM912 90h5v5h-5zM922 90h5v5h-5zM597 95h10v5h-10zM632 95h5v5h-5zM697 95h15v5h-15zM737 95h5v5h-5zM747 95h5v5h-5zM757 95h5v5h-5zM777 95h5v5h-5zM792 95h5v5h-5zM892 95h5v5h-5zM932 95h5v5h-5zM592 100h5v5h-5zM602 100h5v5h-5zM622 100h5v5h-5zM637 100h5v5h-5zM722 100h5v5h-5zM817 100h10v5h-10zM837 100h5v5h-5zM857 100h5v5h-5zM872 100h5v5h-5zM902 100h10v5h-10zM592 105h5v5h-5zM627 105h5v5h-5zM652 105h5v5h-5zM687 105h5v5h-5zM787 105h5v5h-5zM807 105h5v5h-5zM817 105h10v5h-10zM922 105h10v5h-10zM577 110h5v5h-5zM672 110h5v5h-5zM717 110h5v5h-5zM742 110h5v5h-5zM767 110h5v5h-5zM832 110h5v5h-5zM587 115h5v5h-5zM602 115h5v5h-5zM622 115h15v5h-15zM677 115h10v5h-10zM732 115h5v5h-5zM782 115h5v5h-5zM797 115h5v5h-5zM917 115h10v5h-10zM937 115h5v5h-5zM617 120h5v5h-5zM852 120h5v5h-5zM892 120h5v5h-5zM917 120h5v5h-5zM927 120h5v5h-5zM582 125h5v5h-5zM652 125h5v5h-5zM682 125h5v5h-5zM727 125h5v5h-5zM762 125h5v5h-5zM777 125h10v5h-10zM832 125h5v5h-5zM892 125h5v5h-5zM902 125h10v5h-10zM567 130h5v5h-5zM602 130h5v5h-5zM647 130h5v5h-5zM662 130h5v5h-5zM702 130h5v5h-5zM762 130h5v5h-5zM782 130h5v5h-5zM847 130h5v5h-5zM897 130h5v5h-5zM922 130h5v5h-5zM572 135h5v5h-5zM582 135h5v5h-5zM597 135h5v5h-5zM632 135h5v5h-5zM697 135h10v5h-10zM732 135h5v5h-5zM797 135h5v5h-5zM812 135h5v5h-5zM847 135h5v5h-5zM877 135h5v5h-5zM902 135h5v5h-5zM927 135h5v5h-5zM957 135h5v5h-5zM562 140h10v5h-10zM597 140h5v5h-5zM652 140h5v5h-5zM682 140h5v5h-5zM732 140h5v5h-5zM742 140h5v5h-5zM752 140h5v5h-5zM762 140h5v5h-5zM797 140h5v5h-5zM897 140h5v5h-5zM932 140h5v5h-5zM557 145h5v5h-5zM572 145h5v5h-5zM622 145h5v5h-5zM782 145h10v5h-10zM797 145h5v5h-5zM862 145h5v5h-5zM917 145h5v5h-5zM562 150h5v5h-5zM662 150h5v5h-5zM742 150h5v5h-5zM752 150h5v5h-5zM797 150h10v5h-10zM852 150h5v5h-5zM912 150h5v5h-5zM927 150h5v5h-5zM557 155h10v5h-10zM647 155h5v5h-5zM667 155h5v5h-5zM677 155h5v5h-5zM792 155h5v5h-5zM817 155h5v5h-5zM922 155h5v5h-5zM952 155h5v5h-5zM547 160h10v5h-10zM562 160h5v5h-5zM602 160h5v5h-5zM652 160h5v5h-5zM662 160h5v5h-5zM677 160h5v5h-5zM727 160h5v5h-5zM777 160h10v5h-10zM802 160h5v5h-5zM817 160h5v5h-5zM897 160h5v5h-5zM942 160h5v5h-5zM952 160h5v5h-5zM962 160h5v5h-5zM582 165h5v5h-5zM597 165h5v5h-5zM667 165h5v5h-5zM817 165h5v5h-5zM832 165h5v5h-5zM857 165h5v5h-5zM877 165h5v5h-5zM887 165h5v5h-5zM912 165h5v5h-5zM922 165h5v5h-5zM932 165h5v5h-5zM567 170h5v5h-5zM582 170h5v5h-5zM682 170h5v5h-5zM727 170h5v5h-5zM762 170h5v5h-5zM847 170h5v5h-5zM887 170h5v5h-5zM912 170h5v5h-5zM952 170h5v5h-5zM557 175h5v5h-5zM572 175h5v5h-5zM597 175h5v5h-5zM617 175h5v5h-5zM677 175h5v5h-5zM687 175h5v5h-5zM702 175h5v5h-5zM757 175h5v5h-5zM802 175h5v5h-5zM827 175h5v5h-5zM837 175h5v5h-5zM862 175h5v5h-5zM922 175h5v5h-5zM932 175h5v5h-5zM942 175h5v5h-5zM552 180h5v5h-5zM562 180h5v5h-5zM572 180h5v5h-5zM652 180h5v5h-5zM672 180h5v5h-5zM772 180h5v5h-5zM782 180h5v5h-5zM822 180h5v5h-5zM887 180h5v5h-5zM902 180h5v5h-5zM947 180h5v5h-5zM552 185h15v5h-15zM572 185h10v5h-10zM592 185h5v5h-5zM832 185h5v5h-5zM847 185h10v5h-10zM892 185h5v5h-5zM932 185h5v5h-5zM557 190h5v5h-5zM647 190h5v5h-5zM667 190h5v5h-5zM677 190h5v5h-5zM727 190h5v5h-5zM757 190h5v5h-5zM777 190h5v5h-5zM797 190h5v5h-5zM807 190h5v5h-5zM882 190h5v5h-5zM917 190h5v5h-5zM932 190h5v5h-5zM947 190h5v5h-5zM612 195h5v5h-5zM657 195h5v5h-5zM667 195h5v5h-5zM677 195h5v5h-5zM722 195h5v5h-5zM782 195h5v5h-5zM887 195h5v5h-5zM902 195h5v5h-5zM922 195h10v5h-10zM552 200h5v5h-5zM572 200h5v5h-5zM602 200h5v5h-5zM652 200h5v5h-5zM697 200h5v5h-5zM717 200h5v5h-5zM732 200h5v5h-5zM767 200h5v5h-5zM847 200h5v5h-5zM877 200h5v5h-5zM912 200h5v5h-5zM927 200h5v5h-5zM947 200h5v5h-5zM557 205h15v5h-15zM597 205h5v5h-5zM632 205h5v5h-5zM682 205h5v5h-5zM732 205h5v5h-5zM747 205h5v5h-5zM797 205h5v5h-5zM822 205h5v5h-5zM912 205h5v5h-5zM922 205h5v5h-5zM942 205h5v5h-5zM627 210h5v5h-5zM642 210h5v5h-5zM662 210h5v5h-5zM732 210h5v5h-5zM752 210h5v5h-5zM827 210h5v5h-5zM852 210h5v5h-5zM882 210h5v5h-5zM917 210h5v5h-5zM937 210h5v5h-5zM562 215h5v5h-5zM607 215h5v5h-5zM647 215h5v5h-5zM722 215h5v5h-5zM757 215h5v5h-5zM792 215h5v5h-5zM882 215h5v5h-5zM957 215h5v5h-5zM542 220h5v5h-5zM587 220h5v5h-5zM657 220h5v5h-5zM707 220h5v5h-5zM732 220h5v5h-5zM797 220h5v5h-5zM817 220h5v5h-5zM832 220h5v5h-5zM582 225h5v5h-5zM657 225h5v5h-5zM677 225h5v5h-5zM697 225h5v5h-5zM762 225h5v5h-5zM802 225h5v5h-5zM832 225h5v5h-5zM847 225h5v5h-5zM572 230h5v5h-5zM597 230h5v5h-5zM687 230h5v5h-5zM697 230h10v5h-10zM747 230h5v5h-5zM812 230h5v5h-5zM867 230h5v5h-5zM937 230h5v5h-5zM572 235h5v5h-5zM607 235h5v5h-5zM717 235h5v5h-5zM852 235h5v5h-5zM862 235h5v5h-5zM902 235h5v5h-5zM932 235h5v5h-5zM582 240h5v5h-5zM592 240h10v5h-10zM612 240h5v5h-5zM642 240h5v5h-5zM702 240h5v5h-5zM757 240h5v5h-5zM797 240h5v5h-5zM882 240h5v5h-5zM892 240h10v5h-10zM932 240h5v5h-5zM597 245h5v5h-5zM617 245h5v5h-5zM737 245h5v5h-5zM857 245h10v5h-10zM897 245h5v5h-5zM907 245h5v5h-5zM932 245h5v5h-5zM617 250h5v5h-5zM732 250h10v5h-10zM787 250h5v5h-5zM822 250h10v5h-10zM837 250h5v5h-5zM862 250h5v5h-5zM927 250h5v5h-5zM592 255h10v5h-10zM612 255h5v5h-5zM647 255h5v5h-5zM687 255h10v5h-10zM702 255h5v5h-5zM737 255h5v5h-5zM792 255h5v5h-5zM832 255h5v5h-5zM932 255h10v5h-10zM587 260h5v5h-5zM602 260h5v5h-5zM627 260h5v5h-5zM642 260h10v5h-10zM712 260h5v5h-5zM822 260h5v5h-5zM832 260h5v5h-5zM892 260h5v5h-5zM607 265h5v5h-5zM617 265h10v5h-10zM657 265h5v5h-5zM692 265h5v5h-5zM722 265h5v5h-5zM812 265h5v5h-5zM842 265h5v5h-5zM887 265h5v5h-5zM907 265h5v5h-5zM922 265h5v5h-5zM937 265h5v5h-5zM602 270h5v5h-5zM667 270h5v5h-5zM722 270h5v5h-5zM762 270h5v5h-5zM852 270h5v5h-5zM902 270h5v5h-5zM602 275h5v5h-5zM617 275h5v5h-5zM657 275h5v5h-5zM707 275h5v5h-5zM722 275h5v5h-5zM752 275h10v5h-10zM767 275h5v5h-5zM787 275h5v5h-5zM877 275h5v5h-5zM897 275h10v5h-10zM922 275h5v5h-5zM587 280h5v5h-5zM607 280h5v5h-5zM637 280h5v5h-5zM757 280h5v5h-5zM867 280h5v5h-5zM892 280h5v5h-5zM902 280h5v5h-5zM912 280h5v5h-5zM927 280h5v5h-5zM947 280h5v5h-5zM612 285h5v5h-5zM627 285h5v5h-5zM692 285h5v5h-5zM727 285h5v5h-5zM752 285h5v5h-5zM762 285h5v5h-5zM797 285h5v5h-5zM922 285h5v5h-5zM932 285h5v5h-5zM617 290h5v5h-5zM757 290h5v5h-5zM792 290h5v5h-5zM822 290h5v5h-5zM852 290h10v5h-10zM907 290h10v5h-10zM942 290h5v5h-5zM652 295h5v5h-5zM677 295h5v5h-5zM692 295h5v5h-5zM762 295h5v5h-5zM882 295h5v5h-5zM902 295h10v5h-10zM927 295h5v5h-5zM702 300h5v5h-5zM897 300h5v5h-5zM652 305h10v5h-10zM692 305h5v5h-5zM707 305h5v5h-5zM722 305h5v5h-5zM847 305h5v5h-5zM872 305h5v5h-5zM902 305h5v5h-5zM637 310h5v5h-5zM652 310h5v5h-5zM707 310h5v5h-5zM737 310h5v5h-5zM752 310h5v5h-5zM772 310h5v5h-5zM807 310h5v5h-5zM842 310h5v5h-5zM852 310h10v5h-10zM907 310h10v5h-10zM652 315h10v5h-10zM687 315h5v5h-5zM752 315h5v5h-5zM872 315h5v5h-5zM652 320h5v5h-5zM667 320h5v5h-5zM782 320h5v5h-5zM832 320h5v5h-5zM842 320h5v5h-5zM897 320h5v5h-5zM907 320h5v5h-5zM937 320h5v5h-5zM687 325h5v5h-5zM707 325h5v5h-5zM782 325h5v5h-5zM837 325h5v5h-5zM857 325h5v5h-5zM892 325h5v5h-5zM922 325h5v5h-5zM662 330h10v5h-10zM677 330h5v5h-5zM697 330h5v5h-5zM732 330h5v5h-5zM752 330h5v5h-5zM842 330h5v5h-5zM902 330h5v5h-5zM672 335h10v5h-10zM692 335h5v5h-5zM702 335h5v5h-5zM732 335h5v5h-5zM742 335h5v5h-5zM807 335h10v5h-10zM907 335h5v5h-5zM922 335h5v5h-5zM702 340h15v5h-15zM822 340h10v5h-10zM842 340h10v5h-10zM857 340h5v5h-5zM897 340h5v5h-5zM907 340h5v5h-5zM677 345h5v5h-5zM692 345h5v5h-5zM727 345h5v5h-5zM737 345h5v5h-5zM677 350h10v5h-10zM757 350h5v5h-5zM777 350h5v5h-5zM792 350h10v5h-10zM807 350h10v5h-10zM897 350h5v5h-5zM907 350h5v5h-5zM917 350h5v5h-5zM667 355h5v5h-5zM697 355h5v5h-5zM757 355h5v5h-5zM777 355h5v5h-5zM827 355h5v5h-5zM892 355h5v5h-5zM907 355h5v5h-5zM682 360h5v5h-5zM692 360h10v5h-10zM727 360h5v5h-5zM777 360h5v5h-5zM817 360h5v5h-5zM712 365h5v5h-5zM752 365h5v5h-5zM802 365h5v5h-5zM882 365h5v5h-5zM742 370h5v5h-5zM762 370h5v5h-5zM817 370h5v5h-5zM827 370h5v5h-5zM842 370h5v5h-5zM702 375h5v5h-5zM712 375h5v5h-5zM727 375h10v5h-10zM777 375h5v5h-5zM827 375h5v5h-5zM837 375h5v5h-5zM702 380h5v5h-5zM732 380h10v5h-10zM752 380h5v5h-5zM762 380h5v5h-5zM777 380h5v5h-5zM787 380h5v5h-5zM802 380h10v5h-10zM862 380h10v5h-10zM907 380h5v5h-5zM742 385h5v5h-5zM752 385h5v5h-5zM807 385h5v5h-5zM817 385h5v5h-5zM862 385h10v5h-10zM727 390h10v5h-10zM762 390h5v5h-5zM787 390h5v5h-5zM812 390h5v5h-5zM797 395h10v5h-10zM812 395h5v5h-5zM837 395h10v5h-10zM852 395h5v5h-5zM862 395h5v5h-5zM752 400h5v5h-5zM802 400h5v5h-5zM852 400h5v5h-5zM752 405h10v5h-10zM767 405h5v5h-5zM782 405h5v5h-5zM807 405h5v5h-5zM817 405h5v5h-5zM847 405h5v5h-5zM812 410h5v5h-5zM772 415h5v5h-5zM792 415h10v5h-10zM807 415h5v5h-5zM812 425h5v5h-5zM842 425h5v5h-5zM807 430h5v5h-5z"/>
<path fill="#ea761e" d="M682 35h5v5h-5zM737 60h5v5h-5zM837 60h5v5h-5zM782 65h5v5h-5zM742 70h5v5h-5zM762 70h5v5h-5zM782 70h5v5h-5zM852 75h5v5h-5zM867 75h5v5h-5zM727 80h5v5h-5zM777 80h5v5h-5zM812 80h5v5h-5zM822 80h5v5h-5zM832 80h5v5h-5zM842 80h5v5h-5zM697 85h5v5h-5zM732 85h5v5h-5zM797 85h5v5h-5zM817 85h5v5h-5zM872 85h5v5h-5zM627 90h5v5h-5zM717 90h10v5h-10zM817 90h10v5h-10zM887 90h5v5h-5zM897 90h5v5h-5zM677 95h15v5h-15zM717 95h5v5h-5zM832 95h10v5h-10zM862 95h5v5h-5zM872 95h5v5h-5zM887 95h5v5h-5zM937 95h5v5h-5zM687 100h10v5h-10zM777 100h15v5h-15zM827 100h5v5h-5zM842 100h5v5h-5zM712 105h5v5h-5zM742 105h5v5h-5zM767 105h5v5h-5zM797 105h10v5h-10zM667 110h5v5h-5zM752 110h5v5h-5zM792 110h5v5h-5zM807 110h5v5h-5zM877 110h5v5h-5zM642 115h5v5h-5zM697 115h10v5h-10zM747 115h5v5h-5zM807 115h5v5h-5zM827 115h5v5h-5zM852 115h5v5h-5zM652 120h5v5h-5zM747 120h5v5h-5zM762 120h10v5h-10zM817 120h15v5h-15zM907 120h5v5h-5zM607 125h5v5h-5zM667 125h5v5h-5zM757 125h5v5h-5zM807 125h5v5h-5zM827 125h5v5h-5zM847 125h5v5h-5zM612 130h5v5h-5zM622 130h5v5h-5zM642 130h5v5h-5zM737 130h5v5h-5zM767 130h5v5h-5zM802 130h5v5h-5zM887 130h5v5h-5zM567 135h5v5h-5zM637 135h10v5h-10zM662 135h5v5h-5zM727 135h5v5h-5zM777 135h10v5h-10zM802 135h5v5h-5zM852 135h5v5h-5zM592 140h5v5h-5zM802 140h5v5h-5zM692 145h5v5h-5zM707 145h5v5h-5zM807 145h5v5h-5zM827 145h5v5h-5zM867 145h5v5h-5zM892 145h5v5h-5zM902 145h5v5h-5zM912 145h5v5h-5zM637 150h5v5h-5zM732 150h5v5h-5zM757 150h5v5h-5zM772 150h5v5h-5zM817 150h10v5h-10zM837 150h5v5h-5zM587 155h5v5h-5zM597 155h5v5h-5zM612 155h5v5h-5zM627 155h5v5h-5zM732 155h5v5h-5zM747 155h5v5h-5zM787 155h5v5h-5zM892 155h5v5h-5zM582 160h5v5h-5zM597 160h5v5h-5zM637 160h5v5h-5zM682 160h5v5h-5zM707 160h5v5h-5zM732 160h5v5h-5zM832 160h10v5h-10zM867 160h5v5h-5zM542 165h5v5h-5zM662 165h5v5h-5zM917 165h5v5h-5zM627 170h5v5h-5zM637 170h10v5h-10zM657 170h5v5h-5zM667 170h10v5h-10zM702 170h5v5h-5zM712 170h5v5h-5zM722 170h5v5h-5zM767 170h10v5h-10zM632 175h10v5h-10zM657 175h5v5h-5zM697 175h5v5h-5zM777 175h5v5h-5zM812 175h5v5h-5zM822 175h5v5h-5zM842 175h5v5h-5zM882 175h10v5h-10zM902 175h10v5h-10zM667 180h5v5h-5zM677 180h5v5h-5zM707 180h5v5h-5zM757 180h5v5h-5zM767 180h5v5h-5zM837 180h5v5h-5zM847 180h5v5h-5zM612 185h5v5h-5zM652 185h5v5h-5zM777 185h5v5h-5zM872 185h5v5h-5zM907 185h5v5h-5zM937 185h5v5h-5zM572 190h5v5h-5zM652 190h10v5h-10zM707 190h10v5h-10zM742 190h5v5h-5zM812 190h15v5h-15zM902 190h10v5h-10zM922 190h5v5h-5zM632 195h5v5h-5zM702 195h10v5h-10zM757 195h5v5h-5zM607 200h10v5h-10zM657 200h5v5h-5zM772 200h5v5h-5zM802 200h5v5h-5zM817 200h5v5h-5zM867 200h5v5h-5zM892 200h5v5h-5zM917 200h5v5h-5zM642 205h5v5h-5zM727 205h5v5h-5zM887 205h5v5h-5zM562 210h5v5h-5zM577 210h5v5h-5zM632 210h5v5h-5zM677 210h5v5h-5zM707 210h5v5h-5zM567 215h5v5h-5zM637 215h5v5h-5zM667 215h5v5h-5zM712 215h5v5h-5zM777 215h5v5h-5zM872 215h5v5h-5zM887 215h5v5h-5zM912 215h10v5h-10zM552 220h5v5h-5zM582 220h5v5h-5zM632 220h5v5h-5zM642 220h5v5h-5zM682 220h5v5h-5zM702 220h5v5h-5zM712 220h5v5h-5zM722 220h10v5h-10zM742 220h5v5h-5zM757 220h10v5h-10zM792 220h5v5h-5zM857 220h5v5h-5zM872 220h5v5h-5zM617 225h5v5h-5zM662 225h5v5h-5zM717 225h5v5h-5zM727 225h5v5h-5zM742 225h5v5h-5zM772 225h5v5h-5zM782 225h5v5h-5zM812 225h5v5h-5zM827 225h5v5h-5zM857 225h5v5h-5zM867 225h5v5h-5zM877 225h5v5h-5zM897 225h5v5h-5zM607 230h5v5h-5zM717 230h5v5h-5zM732 230h5v5h-5zM742 230h5v5h-5zM757 230h5v5h-5zM767 230h5v5h-5zM782 230h5v5h-5zM852 230h5v5h-5zM877 230h5v5h-5zM552 235h5v5h-5zM602 235h5v5h-5zM622 235h5v5h-5zM632 235h10v5h-10zM652 235h5v5h-5zM722 235h5v5h-5zM767 235h5v5h-5zM782 235h5v5h-5zM832 235h5v5h-5zM877 235h5v5h-5zM897 235h5v5h-5zM637 240h5v5h-5zM717 240h5v5h-5zM852 240h5v5h-5zM862 240h5v5h-5zM887 240h5v5h-5zM942 240h5v5h-5zM607 245h10v5h-10zM667 245h5v5h-5zM692 245h5v5h-5zM702 245h5v5h-5zM717 245h5v5h-5zM742 245h5v5h-5zM752 245h5v5h-5zM877 245h5v5h-5zM892 245h5v5h-5zM627 250h5v5h-5zM682 250h5v5h-5zM697 250h5v5h-5zM712 250h10v5h-10zM777 250h5v5h-5zM812 250h5v5h-5zM882 250h5v5h-5zM632 255h10v5h-10zM667 255h5v5h-5zM682 255h5v5h-5zM747 255h5v5h-5zM757 255h5v5h-5zM787 255h5v5h-5zM827 255h5v5h-5zM652 260h5v5h-5zM677 260h5v5h-5zM702 260h5v5h-5zM717 260h10v5h-10zM752 260h5v5h-5zM802 260h5v5h-5zM837 260h5v5h-5zM897 260h5v5h-5zM682 265h5v5h-5zM727 265h5v5h-5zM747 265h5v5h-5zM847 265h10v5h-10zM617 270h5v5h-5zM652 270h5v5h-5zM677 270h5v5h-5zM697 270h10v5h-10zM712 270h5v5h-5zM757 270h5v5h-5zM767 270h5v5h-5zM927 270h5v5h-5zM577 275h5v5h-5zM652 275h5v5h-5zM667 275h5v5h-5zM682 275h5v5h-5zM697 275h5v5h-5zM737 275h5v5h-5zM797 275h5v5h-5zM842 275h5v5h-5zM872 275h5v5h-5zM797 280h5v5h-5zM682 285h5v5h-5zM732 285h5v5h-5zM772 285h5v5h-5zM802 285h5v5h-5zM847 285h5v5h-5zM867 285h5v5h-5zM907 285h5v5h-5zM602 290h5v5h-5zM637 290h5v5h-5zM712 290h10v5h-10zM747 290h5v5h-5zM772 290h10v5h-10zM802 290h5v5h-5zM867 290h5v5h-5zM642 295h5v5h-5zM662 295h5v5h-5zM682 295h5v5h-5zM702 295h5v5h-5zM717 295h5v5h-5zM727 295h15v5h-15zM777 295h5v5h-5zM892 295h5v5h-5zM677 300h10v5h-10zM822 300h5v5h-5zM902 300h5v5h-5zM697 305h10v5h-10zM742 305h5v5h-5zM777 305h5v5h-5zM862 305h5v5h-5zM732 310h5v5h-5zM742 310h5v5h-5zM762 310h5v5h-5zM782 310h5v5h-5zM847 310h5v5h-5zM882 310h5v5h-5zM682 315h5v5h-5zM697 315h5v5h-5zM842 315h5v5h-5zM917 315h5v5h-5zM642 320h5v5h-5zM772 320h5v5h-5zM847 320h5v5h-5zM862 320h5v5h-5zM877 320h5v5h-5zM887 320h5v5h-5zM902 320h5v5h-5zM712 325h5v5h-5zM732 325h10v5h-10zM757 325h5v5h-5zM787 325h5v5h-5zM832 325h5v5h-5zM842 325h5v5h-5zM642 330h5v5h-5zM682 330h5v5h-5zM747 330h5v5h-5zM757 330h5v5h-5zM777 330h5v5h-5zM807 330h5v5h-5zM857 330h5v5h-5zM722 335h5v5h-5zM772 335h5v5h-5zM817 335h5v5h-5zM827 335h5v5h-5zM857 335h10v5h-10zM947 335h5v5h-5zM797 340h5v5h-5zM812 340h5v5h-5zM867 340h5v5h-5zM742 345h5v5h-5zM777 345h5v5h-5zM847 345h5v5h-5zM712 350h5v5h-5zM732 350h5v5h-5zM767 350h5v5h-5zM782 350h5v5h-5zM837 350h5v5h-5zM847 350h5v5h-5zM737 355h5v5h-5zM797 355h5v5h-5zM822 355h5v5h-5zM867 355h5v5h-5zM687 360h5v5h-5zM737 360h15v5h-15zM827 360h5v5h-5zM792 365h5v5h-5zM752 370h10v5h-10zM767 370h5v5h-5zM792 370h5v5h-5zM802 370h5v5h-5zM757 375h5v5h-5zM887 375h5v5h-5zM812 380h5v5h-5zM842 380h5v5h-5zM707 385h5v5h-5zM737 385h5v5h-5zM762 385h5v5h-5zM852 385h5v5h-5zM887 385h5v5h-5zM852 390h5v5h-5zM777 400h5v5h-5zM737 410h5v5h-5zM802 410h5v5h-5z"/>
<path fill="#0c7d07" d="M777 40h5v5h-5zM802 45h5v5h-5zM742 50h5v5h-5zM807 50h5v5h-5zM762 55h15v5h-15zM782 55h5v5h-5zM792 55h15v5h-15zM727 60h5v5h-5zM777 60h5v5h-5zM812 60h5v5h-5zM827 60h10v5h-10zM862 60h10v5h-10zM897 60h5v5h-5zM712 65h5v5h-5zM742 65h20v5h-20zM792 65h5v5h-5zM807 65h5v5h-5zM822 65h5v5h-5zM872 65h5v5h-5zM687 70h5v5h-5zM717 70h5v5h-5zM732 70h10v5h-10zM792 70h5v5h-5zM827 70h5v5h-5zM852 70h5v5h-5zM672 75h5v5h-5zM787 75h5v5h-5zM912 75h5v5h-5zM672 80h5v5h-5zM737 80h5v5h-5zM747 80h5v5h-5zM772 80h5v5h-5zM797 80h5v5h-5zM807 80h5v5h-5zM852 80h10v5h-10zM887 80h5v5h-5zM897 80h5v5h-5zM662 85h15v5h-15zM687 85h5v5h-5zM707 85h5v5h-5zM722 85h10v5h-10zM767 85h5v5h-5zM792 85h5v5h-5zM857 85h15v5h-15zM897 85h5v5h-5zM667 90h5v5h-5zM697 90h5v5h-5zM727 90h10v5h-10zM847 90h10v5h-10zM617 95h5v5h-5zM652 95h5v5h-5zM742 95h5v5h-5zM762 95h5v5h-5zM842 95h10v5h-10zM867 95h5v5h-5zM907 95h5v5h-5zM612 100h5v5h-5zM642 100h10v5h-10zM662 100h5v5h-5zM727 100h5v5h-5zM802 100h10v5h-10zM832 100h5v5h-5zM862 100h5v5h-5zM877 100h5v5h-5zM892 100h5v5h-5zM912 100h5v5h-5zM617 105h10v5h-10zM637 105h5v5h-5zM667 105h5v5h-5zM682 105h5v5h-5zM697 105h5v5h-5zM852 105h10v5h-10zM877 105h5v5h-5zM612 110h10v5h-10zM637 110h10v5h-10zM797 110h5v5h-5zM827 110h5v5h-5zM847 110h5v5h-5zM887 110h5v5h-5zM902 110h5v5h-5zM917 110h5v5h-5zM597 115h5v5h-5zM617 115h5v5h-5zM672 115h5v5h-5zM717 115h5v5h-5zM897 115h5v5h-5zM907 115h5v5h-5zM597 120h5v5h-5zM612 120h5v5h-5zM627 120h10v5h-10zM657 120h5v5h-5zM722 120h5v5h-5zM757 120h5v5h-5zM797 120h5v5h-5zM867 120h5v5h-5zM877 120h5v5h-5zM922 120h5v5h-5zM617 125h5v5h-5zM627 125h5v5h-5zM642 125h5v5h-5zM662 125h5v5h-5zM707 125h5v5h-5zM717 125h5v5h-5zM767 125h5v5h-5zM802 125h5v5h-5zM817 125h5v5h-5zM857 125h5v5h-5zM872 125h5v5h-5zM657 130h5v5h-5zM697 130h5v5h-5zM707 130h5v5h-5zM727 130h5v5h-5zM757 130h5v5h-5zM587 135h5v5h-5zM652 135h10v5h-10zM747 135h5v5h-5zM792 135h5v5h-5zM862 135h5v5h-5zM882 135h5v5h-5zM892 135h5v5h-5zM907 135h5v5h-5zM922 135h5v5h-5zM782 140h5v5h-5zM827 140h15v5h-15zM862 140h5v5h-5zM882 140h5v5h-5zM892 140h5v5h-5zM907 140h5v5h-5zM917 140h10v5h-10zM612 145h5v5h-5zM717 145h5v5h-5zM737 145h5v5h-5zM752 145h5v5h-5zM762 145h5v5h-5zM772 145h5v5h-5zM802 145h5v5h-5zM837 145h5v5h-5zM852 145h10v5h-10zM922 145h10v5h-10zM582 150h5v5h-5zM617 150h5v5h-5zM632 150h5v5h-5zM647 150h5v5h-5zM692 150h5v5h-5zM832 150h5v5h-5zM862 150h5v5h-5zM922 150h5v5h-5zM572 155h5v5h-5zM607 155h5v5h-5zM622 155h5v5h-5zM717 155h5v5h-5zM767 155h10v5h-10zM802 155h5v5h-5zM837 155h5v5h-5zM882 155h5v5h-5zM897 155h5v5h-5zM672 160h5v5h-5zM687 160h5v5h-5zM882 160h10v5h-10zM917 160h5v5h-5zM927 160h5v5h-5zM622 165h5v5h-5zM632 165h10v5h-10zM652 165h5v5h-5zM677 165h5v5h-5zM717 165h5v5h-5zM782 165h5v5h-5zM797 165h5v5h-5zM822 165h5v5h-5zM872 165h5v5h-5zM907 165h5v5h-5zM577 170h5v5h-5zM612 170h5v5h-5zM662 170h5v5h-5zM677 170h5v5h-5zM742 170h10v5h-10zM897 170h5v5h-5zM562 175h10v5h-10zM582 175h5v5h-5zM592 175h5v5h-5zM622 175h5v5h-5zM712 175h5v5h-5zM782 175h5v5h-5zM577 180h5v5h-5zM612 180h5v5h-5zM657 180h5v5h-5zM787 180h5v5h-5zM922 180h5v5h-5zM567 185h5v5h-5zM582 185h5v5h-5zM597 185h5v5h-5zM677 185h5v5h-5zM697 185h5v5h-5zM732 185h5v5h-5zM747 185h5v5h-5zM822 185h5v5h-5zM857 185h5v5h-5zM902 185h5v5h-5zM942 185h5v5h-5zM617 190h5v5h-5zM642 190h5v5h-5zM687 190h5v5h-5zM717 190h5v5h-5zM767 190h5v5h-5zM787 190h10v5h-10zM857 190h10v5h-10zM897 190h5v5h-5zM637 195h5v5h-5zM762 195h10v5h-10zM807 195h30v5h-30zM897 195h5v5h-5zM647 200h5v5h-5zM682 200h5v5h-5zM722 200h5v5h-5zM792 200h5v5h-5zM922 200h5v5h-5zM932 200h5v5h-5zM637 205h5v5h-5zM657 205h5v5h-5zM692 205h5v5h-5zM772 205h5v5h-5zM782 205h5v5h-5zM792 205h5v5h-5zM872 205h10v5h-10zM927 205h5v5h-5zM592 210h5v5h-5zM737 210h5v5h-5zM837 210h5v5h-5zM867 210h5v5h-5zM877 210h5v5h-5zM892 210h15v5h-15zM617 215h5v5h-5zM642 215h5v5h-5zM702 215h5v5h-5zM752 215h5v5h-5zM782 215h5v5h-5zM812 215h10v5h-10zM832 215h5v5h-5zM867 215h5v5h-5zM877 215h5v5h-5zM937 215h10v5h-10zM607 220h5v5h-5zM777 220h5v5h-5zM847 220h5v5h-5zM867 220h5v5h-5zM882 220h5v5h-5zM912 220h20v5h-20zM577 225h5v5h-5zM587 225h5v5h-5zM637 225h5v5h-5zM702 225h10v5h-10zM722 225h5v5h-5zM732 225h10v5h-10zM752 225h5v5h-5zM767 225h5v5h-5zM792 225h5v5h-5zM902 225h5v5h-5zM917 225h10v5h-10zM587 230h10v5h-10zM647 230h5v5h-5zM672 230h5v5h-5zM692 230h5v5h-5zM712 230h5v5h-5zM762 230h5v5h-5zM787 230h5v5h-5zM797 230h5v5h-5zM837 230h5v5h-5zM887 230h10v5h-10zM927 230h5v5h-5zM587 235h10v5h-10zM662 235h10v5h-10zM697 235h5v5h-5zM747 235h5v5h-5zM757 235h5v5h-5zM772 235h10v5h-10zM797 235h10v5h-10zM812 235h10v5h-10zM587 240h5v5h-5zM607 240h5v5h-5zM647 240h5v5h-5zM687 240h5v5h-5zM697 240h5v5h-5zM712 240h5v5h-5zM792 240h5v5h-5zM847 240h5v5h-5zM857 240h5v5h-5zM872 240h5v5h-5zM927 240h5v5h-5zM602 245h5v5h-5zM622 245h5v5h-5zM632 245h5v5h-5zM707 245h5v5h-5zM727 245h5v5h-5zM747 245h5v5h-5zM822 245h5v5h-5zM882 245h5v5h-5zM912 245h5v5h-5zM597 250h5v5h-5zM642 250h10v5h-10zM672 250h5v5h-5zM692 250h5v5h-5zM702 250h5v5h-5zM742 250h10v5h-10zM757 250h5v5h-5zM782 250h5v5h-5zM867 250h10v5h-10zM902 250h10v5h-10zM922 250h5v5h-5zM602 255h5v5h-5zM622 255h5v5h-5zM727 255h5v5h-5zM817 255h5v5h-5zM852 255h5v5h-5zM867 255h5v5h-5zM662 260h5v5h-5zM687 260h5v5h-5zM767 260h10v5h-10zM787 260h5v5h-5zM797 260h5v5h-5zM807 260h5v5h-5zM817 260h5v5h-5zM847 260h10v5h-10zM902 260h5v5h-5zM912 260h5v5h-5zM612 265h5v5h-5zM642 265h5v5h-5zM672 265h5v5h-5zM777 265h5v5h-5zM807 265h5v5h-5zM832 265h5v5h-5zM872 265h5v5h-5zM882 265h5v5h-5zM917 265h5v5h-5zM622 270h5v5h-5zM777 270h5v5h-5zM812 270h5v5h-5zM847 270h5v5h-5zM872 270h5v5h-5zM632 275h5v5h-5zM677 275h5v5h-5zM687 275h5v5h-5zM712 275h5v5h-5zM742 275h5v5h-5zM777 275h5v5h-5zM807 275h5v5h-5zM822 275h5v5h-5zM837 275h5v5h-5zM892 275h5v5h-5zM622 280h5v5h-5zM662 280h5v5h-5zM677 280h5v5h-5zM777 280h5v5h-5zM792 280h5v5h-5zM842 280h10v5h-10zM882 280h5v5h-5zM622 285h5v5h-5zM632 285h5v5h-5zM642 285h5v5h-5zM657 285h5v5h-5zM777 285h5v5h-5zM817 285h5v5h-5zM857 285h5v5h-5zM882 285h5v5h-5zM917 285h5v5h-5zM657 290h5v5h-5zM692 290h5v5h-5zM807 290h5v5h-5zM877 290h5v5h-5zM892 290h5v5h-5zM902 290h5v5h-5zM647 295h5v5h-5zM712 295h5v5h-5zM792 300h5v5h-5zM827 300h5v5h-5zM837 300h5v5h-5zM907 300h15v5h-15zM642 305h10v5h-10zM672 305h5v5h-5zM732 305h5v5h-5zM757 305h5v5h-5zM772 305h5v5h-5zM812 305h5v5h-5zM827 305h15v5h-15zM877 305h5v5h-5zM657 310h5v5h-5zM682 310h10v5h-10zM712 310h5v5h-5zM727 310h5v5h-5zM897 310h5v5h-5zM662 315h10v5h-10zM692 315h5v5h-5zM702 315h5v5h-5zM717 315h5v5h-5zM777 315h5v5h-5zM787 315h5v5h-5zM817 315h5v5h-5zM837 315h5v5h-5zM847 315h5v5h-5zM687 320h5v5h-5zM722 320h5v5h-5zM747 320h5v5h-5zM912 320h5v5h-5zM682 325h5v5h-5zM742 325h5v5h-5zM752 325h5v5h-5zM762 325h5v5h-5zM777 325h5v5h-5zM827 325h5v5h-5zM852 325h5v5h-5zM902 325h5v5h-5zM912 325h5v5h-5zM672 330h5v5h-5zM687 330h5v5h-5zM737 330h5v5h-5zM772 330h5v5h-5zM797 330h5v5h-5zM817 330h5v5h-5zM827 330h5v5h-5zM852 330h5v5h-5zM862 330h10v5h-10zM882 330h5v5h-5zM737 335h5v5h-5zM752 335h10v5h-10zM767 335h5v5h-5zM777 335h10v5h-10zM802 335h5v5h-5zM822 335h5v5h-5zM867 335h5v5h-5zM902 335h5v5h-5zM677 340h5v5h-5zM717 340h5v5h-5zM742 340h10v5h-10zM832 340h5v5h-5zM872 340h5v5h-5zM682 345h5v5h-5zM707 345h5v5h-5zM752 345h5v5h-5zM842 345h5v5h-5zM857 345h5v5h-5zM877 345h5v5h-5zM892 345h5v5h-5zM902 345h5v5h-5zM842 350h5v5h-5zM872 350h5v5h-5zM892 350h5v5h-5zM702 355h5v5h-5zM722 355h5v5h-5zM732 355h5v5h-5zM762 355h10v5h-10zM857 355h5v5h-5zM872 355h5v5h-5zM797 360h5v5h-5zM842 360h5v5h-5zM867 360h5v5h-5zM877 360h5v5h-5zM892 360h5v5h-5zM697 365h5v5h-5zM757 365h5v5h-5zM787 365h5v5h-5zM847 365h5v5h-5zM862 365h5v5h-5zM877 365h5v5h-5zM887 365h5v5h-5zM712 370h5v5h-5zM787 370h5v5h-5zM857 370h5v5h-5zM872 370h5v5h-5zM737 375h5v5h-5zM747 375h10v5h-10zM797 375h5v5h-5zM822 375h5v5h-5zM852 375h15v5h-15zM882 375h5v5h-5zM892 375h5v5h-5zM767 380h10v5h-10zM782 380h5v5h-5zM792 380h5v5h-5zM822 380h10v5h-10zM732 385h5v5h-5zM842 385h10v5h-10zM857 385h5v5h-5zM747 390h5v5h-5zM782 390h5v5h-5zM832 390h5v5h-5zM757 395h10v5h-10zM772 395h5v5h-5zM832 395h5v5h-5zM767 400h5v5h-5zM787 405h15v5h-15zM812 405h5v5h-5z"/>
<path fill="#0a6406" d="M782 40h5v5h-5zM772 45h5v5h-5zM887 45h5v5h-5zM827 50h10v5h-10zM842 50h5v5h-5zM727 55h10v5h-10zM747 55h5v5h-5zM777 55h5v5h-5zM807 55h20v5h-20zM832 55h10v5h-10zM847 55h5v5h-5zM857 55h10v5h-10zM707 60h5v5h-5zM722 60h5v5h-5zM752 60h5v5h-5zM807 60h5v5h-5zM847 60h10v5h-10zM887 60h5v5h-5zM687 65h10v5h-10zM702 65h10v5h-10zM772 65h5v5h-5zM862 65h5v5h-5zM882 65h10v5h-10zM902 65h5v5h-5zM707 70h5v5h-5zM832 70h5v5h-5zM847 70h5v5h-5zM687 75h10v5h-10zM742 75h5v5h-5zM757 75h10v5h-10zM782 75h5v5h-5zM812 75h5v5h-5zM832 75h5v5h-5zM882 75h5v5h-5zM902 75h5v5h-5zM617 80h5v5h-5zM647 80h5v5h-5zM742 80h5v5h-5zM782 80h5v5h-5zM882 80h5v5h-5zM892 80h5v5h-5zM637 85h10v5h-10zM652 85h5v5h-5zM682 85h5v5h-5zM717 85h5v5h-5zM757 85h5v5h-5zM782 85h10v5h-10zM827 85h5v5h-5zM877 85h10v5h-10zM892 85h5v5h-5zM912 85h5v5h-5zM622 90h5v5h-5zM677 90h10v5h-10zM692 90h5v5h-5zM762 90h5v5h-5zM782 90h5v5h-5zM622 95h10v5h-10zM642 95h5v5h-5zM692 95h5v5h-5zM782 95h5v5h-5zM882 95h5v5h-5zM897 95h5v5h-5zM617 100h5v5h-5zM627 100h5v5h-5zM667 100h5v5h-5zM712 100h5v5h-5zM742 100h5v5h-5zM757 100h5v5h-5zM882 100h5v5h-5zM922 100h5v5h-5zM702 105h5v5h-5zM727 105h5v5h-5zM792 105h5v5h-5zM847 105h5v5h-5zM902 105h5v5h-5zM917 105h5v5h-5zM602 110h5v5h-5zM622 110h5v5h-5zM662 110h5v5h-5zM677 110h5v5h-5zM692 110h5v5h-5zM707 110h5v5h-5zM782 110h5v5h-5zM812 110h5v5h-5zM822 110h5v5h-5zM837 110h5v5h-5zM862 110h5v5h-5zM872 110h5v5h-5zM907 110h5v5h-5zM927 110h5v5h-5zM942 110h5v5h-5zM652 115h10v5h-10zM737 115h10v5h-10zM767 115h5v5h-5zM792 115h5v5h-5zM842 115h5v5h-5zM877 115h5v5h-5zM902 115h5v5h-5zM607 120h5v5h-5zM622 120h5v5h-5zM637 120h5v5h-5zM697 120h5v5h-5zM707 120h5v5h-5zM717 120h5v5h-5zM737 120h5v5h-5zM812 120h5v5h-5zM887 120h5v5h-5zM897 120h5v5h-5zM577 125h5v5h-5zM597 125h5v5h-5zM657 125h5v5h-5zM697 125h5v5h-5zM722 125h5v5h-5zM842 125h5v5h-5zM862 125h5v5h-5zM917 125h5v5h-5zM927 125h5v5h-5zM572 130h5v5h-5zM587 130h5v5h-5zM627 130h5v5h-5zM672 130h5v5h-5zM792 130h5v5h-5zM882 130h5v5h-5zM912 130h5v5h-5zM612 135h5v5h-5zM647 135h5v5h-5zM672 135h5v5h-5zM682 135h5v5h-5zM692 135h5v5h-5zM722 135h5v5h-5zM742 135h5v5h-5zM752 135h5v5h-5zM787 135h5v5h-5zM917 135h5v5h-5zM932 135h5v5h-5zM657 140h5v5h-5zM667 140h5v5h-5zM687 140h10v5h-10zM747 140h5v5h-5zM757 140h5v5h-5zM767 140h5v5h-5zM842 140h5v5h-5zM877 140h5v5h-5zM902 140h5v5h-5zM582 145h15v5h-15zM602 145h5v5h-5zM632 145h5v5h-5zM647 145h5v5h-5zM727 145h5v5h-5zM747 145h5v5h-5zM832 145h5v5h-5zM897 145h5v5h-5zM937 145h5v5h-5zM577 150h5v5h-5zM607 150h10v5h-10zM657 150h5v5h-5zM667 150h5v5h-5zM682 150h5v5h-5zM782 150h5v5h-5zM882 150h5v5h-5zM917 150h5v5h-5zM932 150h10v5h-10zM577 155h5v5h-5zM632 155h5v5h-5zM672 155h5v5h-5zM687 155h5v5h-5zM752 155h5v5h-5zM807 155h5v5h-5zM822 155h10v5h-10zM847 155h15v5h-15zM932 155h10v5h-10zM567 160h5v5h-5zM592 160h5v5h-5zM742 160h10v5h-10zM772 160h5v5h-5zM852 160h5v5h-5zM912 160h5v5h-5zM922 160h5v5h-5zM932 160h5v5h-5zM587 165h5v5h-5zM612 165h5v5h-5zM642 165h5v5h-5zM692 165h5v5h-5zM707 165h5v5h-5zM732 165h10v5h-10zM787 165h5v5h-5zM812 165h5v5h-5zM842 165h5v5h-5zM882 165h5v5h-5zM892 165h5v5h-5zM902 165h5v5h-5zM937 165h5v5h-5zM562 170h5v5h-5zM592 170h5v5h-5zM622 170h5v5h-5zM757 170h5v5h-5zM787 170h5v5h-5zM802 170h5v5h-5zM832 170h5v5h-5zM872 170h5v5h-5zM902 170h10v5h-10zM927 170h10v5h-10zM577 175h5v5h-5zM607 175h5v5h-5zM627 175h5v5h-5zM662 175h5v5h-5zM682 175h5v5h-5zM717 175h5v5h-5zM792 175h10v5h-10zM807 175h5v5h-5zM817 175h5v5h-5zM872 175h5v5h-5zM917 175h5v5h-5zM927 175h5v5h-5zM937 175h5v5h-5zM557 180h5v5h-5zM567 180h5v5h-5zM617 180h5v5h-5zM717 180h5v5h-5zM747 180h5v5h-5zM797 180h5v5h-5zM812 180h5v5h-5zM842 180h5v5h-5zM882 180h5v5h-5zM912 180h10v5h-10zM937 180h5v5h-5zM542 185h5v5h-5zM637 185h5v5h-5zM682 185h5v5h-5zM717 185h5v5h-5zM762 185h5v5h-5zM797 185h5v5h-5zM827 185h5v5h-5zM877 185h5v5h-5zM897 185h5v5h-5zM922 185h10v5h-10zM577 190h5v5h-5zM587 190h10v5h-10zM632 190h10v5h-10zM737 190h5v5h-5zM782 190h5v5h-5zM927 190h5v5h-5zM562 195h15v5h-15zM582 195h5v5h-5zM642 195h5v5h-5zM652 195h5v5h-5zM682 195h5v5h-5zM697 195h5v5h-5zM712 195h10v5h-10zM747 195h5v5h-5zM792 195h5v5h-5zM842 195h5v5h-5zM567 200h5v5h-5zM617 200h5v5h-5zM637 200h5v5h-5zM737 200h5v5h-5zM757 200h5v5h-5zM777 200h5v5h-5zM787 200h5v5h-5zM797 200h5v5h-5zM812 200h5v5h-5zM822 200h5v5h-5zM852 200h10v5h-10zM942 200h5v5h-5zM572 205h5v5h-5zM707 205h10v5h-10zM722 205h5v5h-5zM742 205h5v5h-5zM762 205h5v5h-5zM777 205h5v5h-5zM787 205h5v5h-5zM847 205h5v5h-5zM917 205h5v5h-5zM572 210h5v5h-5zM607 210h15v5h-15zM647 210h5v5h-5zM667 210h10v5h-10zM702 210h5v5h-5zM717 210h5v5h-5zM762 210h5v5h-5zM782 210h5v5h-5zM797 210h5v5h-5zM822 210h5v5h-5zM832 210h5v5h-5zM887 210h5v5h-5zM907 210h5v5h-5zM932 210h5v5h-5zM572 215h10v5h-10zM632 215h5v5h-5zM672 215h5v5h-5zM717 215h5v5h-5zM762 215h5v5h-5zM802 215h5v5h-5zM862 215h5v5h-5zM892 215h15v5h-15zM927 215h5v5h-5zM617 220h5v5h-5zM662 220h5v5h-5zM697 220h5v5h-5zM767 220h5v5h-5zM807 220h5v5h-5zM852 220h5v5h-5zM877 220h5v5h-5zM897 220h15v5h-15zM932 220h5v5h-5zM592 225h10v5h-10zM607 225h10v5h-10zM627 225h10v5h-10zM682 225h5v5h-5zM822 225h5v5h-5zM852 225h5v5h-5zM932 225h5v5h-5zM942 225h5v5h-5zM677 230h5v5h-5zM827 230h5v5h-5zM862 230h5v5h-5zM912 230h10v5h-10zM932 230h5v5h-5zM597 235h5v5h-5zM612 235h5v5h-5zM647 235h5v5h-5zM682 235h5v5h-5zM692 235h5v5h-5zM742 235h5v5h-5zM787 235h5v5h-5zM917 235h5v5h-5zM707 240h5v5h-5zM727 240h5v5h-5zM767 240h5v5h-5zM787 240h5v5h-5zM822 240h5v5h-5zM947 240h5v5h-5zM582 245h10v5h-10zM662 245h5v5h-5zM682 245h5v5h-5zM797 245h5v5h-5zM917 245h5v5h-5zM927 245h5v5h-5zM942 245h5v5h-5zM607 250h5v5h-5zM662 250h5v5h-5zM677 250h5v5h-5zM687 250h5v5h-5zM722 250h10v5h-10zM817 250h5v5h-5zM832 250h5v5h-5zM887 250h10v5h-10zM912 250h5v5h-5zM642 255h5v5h-5zM662 255h5v5h-5zM742 255h5v5h-5zM797 255h10v5h-10zM812 255h5v5h-5zM822 255h5v5h-5zM837 255h5v5h-5zM847 255h5v5h-5zM907 255h15v5h-15zM607 260h5v5h-5zM622 260h5v5h-5zM632 260h5v5h-5zM692 260h5v5h-5zM727 260h5v5h-5zM747 260h5v5h-5zM812 260h5v5h-5zM827 260h5v5h-5zM927 260h5v5h-5zM942 260h5v5h-5zM602 265h5v5h-5zM712 265h10v5h-10zM732 265h5v5h-5zM767 265h10v5h-10zM827 265h5v5h-5zM857 265h5v5h-5zM927 265h5v5h-5zM612 270h5v5h-5zM627 270h5v5h-5zM637 270h5v5h-5zM692 270h5v5h-5zM727 270h5v5h-5zM742 270h5v5h-5zM772 270h5v5h-5zM827 270h5v5h-5zM837 270h5v5h-5zM887 270h5v5h-5zM912 270h5v5h-5zM932 270h5v5h-5zM942 270h5v5h-5zM622 275h5v5h-5zM702 275h5v5h-5zM772 275h5v5h-5zM792 275h5v5h-5zM832 275h5v5h-5zM847 275h5v5h-5zM912 275h5v5h-5zM627 280h5v5h-5zM682 280h10v5h-10zM702 280h5v5h-5zM712 280h5v5h-5zM752 280h5v5h-5zM762 280h5v5h-5zM807 280h5v5h-5zM827 280h5v5h-5zM617 285h5v5h-5zM652 285h5v5h-5zM707 285h5v5h-5zM737 285h5v5h-5zM792 285h5v5h-5zM862 285h5v5h-5zM912 285h5v5h-5zM647 290h5v5h-5zM672 290h5v5h-5zM702 290h5v5h-5zM732 290h5v5h-5zM752 290h5v5h-5zM797 290h5v5h-5zM832 290h5v5h-5zM862 290h5v5h-5zM897 290h5v5h-5zM917 290h5v5h-5zM722 295h5v5h-5zM802 295h5v5h-5zM827 295h5v5h-5zM847 295h5v5h-5zM867 295h5v5h-5zM912 295h5v5h-5zM632 300h20v5h-20zM657 300h5v5h-5zM672 300h5v5h-5zM697 300h5v5h-5zM712 300h5v5h-5zM772 300h5v5h-5zM787 300h5v5h-5zM817 300h5v5h-5zM637 305h5v5h-5zM662 305h5v5h-5zM677 305h5v5h-5zM687 305h5v5h-5zM762 305h5v5h-5zM782 305h5v5h-5zM817 305h5v5h-5zM842 305h5v5h-5zM917 305h10v5h-10zM647 310h5v5h-5zM662 310h5v5h-5zM672 310h5v5h-5zM777 310h5v5h-5zM837 310h5v5h-5zM902 310h5v5h-5zM917 310h5v5h-5zM722 315h5v5h-5zM762 315h5v5h-5zM772 315h5v5h-5zM782 315h5v5h-5zM802 315h5v5h-5zM862 315h5v5h-5zM892 315h5v5h-5zM927 315h5v5h-5zM657 320h5v5h-5zM677 320h10v5h-10zM712 320h5v5h-5zM727 320h5v5h-5zM752 320h5v5h-5zM817 320h5v5h-5zM652 325h15v5h-15zM702 325h5v5h-5zM817 325h5v5h-5zM847 325h5v5h-5zM862 325h10v5h-10zM897 325h5v5h-5zM907 325h5v5h-5zM917 325h5v5h-5zM707 330h5v5h-5zM717 330h5v5h-5zM787 330h5v5h-5zM872 330h5v5h-5zM667 335h5v5h-5zM747 335h5v5h-5zM787 335h10v5h-10zM852 335h5v5h-5zM882 335h5v5h-5zM697 340h5v5h-5zM732 340h5v5h-5zM752 340h15v5h-15zM777 340h5v5h-5zM837 340h5v5h-5zM887 340h5v5h-5zM912 340h5v5h-5zM697 345h5v5h-5zM712 345h5v5h-5zM722 345h5v5h-5zM787 345h5v5h-5zM827 345h10v5h-10zM897 345h5v5h-5zM907 345h5v5h-5zM702 350h10v5h-10zM762 350h5v5h-5zM787 350h5v5h-5zM817 350h5v5h-5zM827 350h5v5h-5zM867 350h5v5h-5zM887 350h5v5h-5zM707 355h5v5h-5zM717 355h5v5h-5zM782 355h5v5h-5zM812 355h5v5h-5zM862 355h5v5h-5zM882 355h10v5h-10zM902 355h5v5h-5zM702 360h5v5h-5zM712 360h5v5h-5zM767 360h5v5h-5zM802 360h5v5h-5zM832 360h10v5h-10zM847 360h5v5h-5zM897 360h5v5h-5zM737 365h5v5h-5zM812 365h5v5h-5zM867 365h5v5h-5zM892 365h5v5h-5zM737 370h5v5h-5zM797 370h5v5h-5zM807 370h5v5h-5zM832 370h5v5h-5zM847 370h5v5h-5zM897 370h5v5h-5zM762 375h5v5h-5zM802 375h5v5h-5zM812 375h5v5h-5zM907 375h5v5h-5zM727 380h5v5h-5zM852 380h10v5h-10zM872 380h5v5h-5zM727 385h5v5h-5zM747 385h5v5h-5zM777 385h20v5h-20zM802 385h5v5h-5zM837 385h5v5h-5zM737 390h5v5h-5zM757 390h5v5h-5zM767 390h5v5h-5zM807 390h5v5h-5zM822 390h5v5h-5zM842 390h5v5h-5zM862 390h5v5h-5zM737 395h5v5h-5zM787 395h5v5h-5zM872 395h5v5h-5zM837 400h5v5h-5zM772 405h10v5h-10zM777 410h10v5h-10z"/>
<path fill="#e82c1c" d="M762 45h5v5h-5zM652 50h5v5h-5zM727 65h5v5h-5zM762 65h5v5h-5zM802 65h5v5h-5zM817 65h5v5h-5zM832 65h5v5h-5zM667 70h5v5h-5zM807 70h5v5h-5zM817 70h5v5h-5zM902 70h5v5h-5zM712 75h5v5h-5zM722 75h10v5h-10zM827 75h5v5h-5zM702 80h5v5h-5zM712 80h10v5h-10zM877 80h5v5h-5zM737 85h5v5h-5zM752 85h5v5h-5zM832 85h5v5h-5zM842 85h5v5h-5zM702 90h5v5h-5zM787 90h5v5h-5zM797 90h5v5h-5zM872 90h5v5h-5zM712 95h5v5h-5zM727 95h5v5h-5zM817 95h5v5h-5zM827 95h5v5h-5zM677 100h5v5h-5zM707 100h5v5h-5zM747 100h5v5h-5zM767 100h5v5h-5zM602 105h5v5h-5zM657 105h5v5h-5zM672 105h5v5h-5zM707 105h5v5h-5zM752 105h5v5h-5zM772 105h5v5h-5zM837 105h10v5h-10zM687 110h5v5h-5zM697 110h5v5h-5zM732 110h5v5h-5zM757 110h5v5h-5zM817 110h5v5h-5zM852 110h5v5h-5zM912 110h5v5h-5zM727 115h5v5h-5zM787 115h5v5h-5zM832 115h5v5h-5zM602 120h5v5h-5zM677 120h5v5h-5zM687 120h5v5h-5zM807 120h5v5h-5zM847 120h5v5h-5zM912 120h5v5h-5zM702 125h5v5h-5zM732 125h5v5h-5zM687 130h5v5h-5zM772 130h5v5h-5zM812 130h5v5h-5zM832 130h5v5h-5zM932 130h5v5h-5zM577 135h5v5h-5zM617 135h5v5h-5zM717 135h5v5h-5zM817 135h10v5h-10zM887 135h5v5h-5zM912 135h5v5h-5zM582 140h5v5h-5zM772 140h10v5h-10zM792 140h5v5h-5zM852 140h5v5h-5zM872 140h5v5h-5zM887 140h5v5h-5zM987 140h5v5h-5zM607 145h5v5h-5zM627 145h5v5h-5zM667 145h5v5h-5zM682 145h5v5h-5zM757 145h5v5h-5zM792 145h5v5h-5zM822 145h5v5h-5zM727 150h5v5h-5zM777 150h5v5h-5zM847 150h5v5h-5zM887 150h5v5h-5zM617 155h5v5h-5zM637 155h5v5h-5zM692 155h5v5h-5zM782 155h5v5h-5zM797 155h5v5h-5zM812 155h5v5h-5zM887 155h5v5h-5zM607 160h5v5h-5zM627 160h10v5h-10zM647 160h5v5h-5zM697 160h5v5h-5zM722 160h5v5h-5zM787 160h10v5h-10zM822 160h5v5h-5zM902 160h5v5h-5zM627 165h5v5h-5zM647 165h5v5h-5zM687 165h5v5h-5zM712 165h5v5h-5zM752 165h5v5h-5zM772 165h10v5h-10zM852 165h5v5h-5zM867 165h5v5h-5zM647 170h5v5h-5zM732 170h5v5h-5zM777 170h5v5h-5zM792 170h5v5h-5zM852 170h5v5h-5zM877 170h5v5h-5zM612 175h5v5h-5zM647 175h5v5h-5zM667 175h5v5h-5zM692 175h5v5h-5zM772 175h5v5h-5zM897 175h5v5h-5zM912 175h5v5h-5zM587 180h5v5h-5zM627 180h10v5h-10zM647 180h5v5h-5zM697 180h5v5h-5zM727 180h5v5h-5zM737 180h5v5h-5zM617 185h5v5h-5zM667 185h5v5h-5zM687 185h5v5h-5zM707 185h5v5h-5zM767 185h5v5h-5zM782 185h10v5h-10zM887 185h5v5h-5zM947 185h5v5h-5zM612 190h5v5h-5zM622 190h5v5h-5zM682 190h5v5h-5zM702 190h5v5h-5zM762 190h5v5h-5zM802 190h5v5h-5zM827 190h15v5h-15zM852 190h5v5h-5zM892 190h5v5h-5zM592 195h10v5h-10zM627 195h5v5h-5zM687 195h5v5h-5zM772 195h5v5h-5zM787 195h5v5h-5zM852 195h5v5h-5zM642 200h5v5h-5zM672 200h5v5h-5zM692 200h5v5h-5zM747 200h5v5h-5zM762 200h5v5h-5zM842 200h5v5h-5zM862 200h5v5h-5zM577 205h5v5h-5zM602 205h5v5h-5zM622 205h5v5h-5zM647 205h5v5h-5zM687 205h5v5h-5zM702 205h5v5h-5zM757 205h5v5h-5zM857 205h5v5h-5zM897 205h5v5h-5zM597 210h5v5h-5zM637 210h5v5h-5zM682 210h5v5h-5zM742 210h5v5h-5zM872 210h5v5h-5zM592 215h5v5h-5zM602 215h5v5h-5zM652 215h5v5h-5zM662 215h5v5h-5zM677 215h5v5h-5zM687 215h5v5h-5zM737 215h10v5h-10zM767 215h5v5h-5zM797 215h5v5h-5zM837 215h5v5h-5zM577 220h5v5h-5zM717 220h5v5h-5zM812 220h5v5h-5zM827 220h5v5h-5zM837 220h5v5h-5zM862 220h5v5h-5zM602 225h5v5h-5zM652 225h5v5h-5zM672 225h5v5h-5zM692 225h5v5h-5zM882 225h10v5h-10zM582 230h5v5h-5zM632 230h5v5h-5zM772 230h5v5h-5zM792 230h5v5h-5zM802 230h10v5h-10zM822 230h5v5h-5zM832 230h5v5h-5zM857 230h5v5h-5zM882 230h5v5h-5zM657 235h5v5h-5zM672 235h5v5h-5zM792 235h5v5h-5zM827 235h5v5h-5zM842 235h5v5h-5zM867 235h5v5h-5zM892 235h5v5h-5zM632 240h5v5h-5zM652 240h5v5h-5zM742 240h15v5h-15zM772 240h15v5h-15zM827 240h5v5h-5zM907 240h5v5h-5zM657 245h5v5h-5zM672 245h5v5h-5zM687 245h5v5h-5zM762 245h5v5h-5zM782 245h5v5h-5zM807 245h10v5h-10zM847 245h5v5h-5zM872 245h5v5h-5zM922 245h5v5h-5zM652 250h5v5h-5zM762 250h5v5h-5zM842 250h5v5h-5zM732 255h5v5h-5zM782 255h5v5h-5zM857 255h5v5h-5zM872 255h5v5h-5zM922 255h5v5h-5zM617 260h5v5h-5zM667 260h5v5h-5zM707 260h5v5h-5zM732 260h5v5h-5zM742 260h5v5h-5zM757 260h5v5h-5zM777 260h5v5h-5zM872 260h10v5h-10zM597 265h5v5h-5zM647 265h5v5h-5zM677 265h5v5h-5zM687 265h5v5h-5zM702 265h5v5h-5zM862 265h5v5h-5zM897 265h5v5h-5zM687 270h5v5h-5zM752 270h5v5h-5zM797 270h5v5h-5zM817 270h5v5h-5zM857 270h5v5h-5zM662 275h5v5h-5zM672 275h5v5h-5zM782 275h5v5h-5zM817 275h5v5h-5zM852 275h5v5h-5zM887 275h5v5h-5zM652 280h5v5h-5zM692 280h5v5h-5zM782 280h5v5h-5zM802 280h5v5h-5zM812 280h5v5h-5zM862 280h5v5h-5zM582 285h5v5h-5zM742 285h5v5h-5zM887 285h10v5h-10zM902 285h5v5h-5zM612 290h5v5h-5zM697 290h5v5h-5zM707 290h5v5h-5zM742 290h5v5h-5zM762 290h5v5h-5zM627 295h5v5h-5zM672 295h5v5h-5zM687 295h5v5h-5zM812 295h10v5h-10zM837 295h5v5h-5zM887 295h5v5h-5zM652 300h5v5h-5zM812 300h5v5h-5zM832 300h5v5h-5zM842 300h5v5h-5zM887 300h5v5h-5zM717 305h5v5h-5zM752 305h5v5h-5zM767 305h5v5h-5zM822 305h5v5h-5zM692 310h10v5h-10zM797 310h5v5h-5zM812 310h5v5h-5zM867 310h5v5h-5zM727 315h5v5h-5zM702 320h5v5h-5zM732 320h5v5h-5zM792 320h5v5h-5zM857 320h5v5h-5zM722 325h5v5h-5zM747 325h5v5h-5zM802 325h5v5h-5zM702 330h5v5h-5zM742 330h5v5h-5zM792 330h5v5h-5zM802 330h5v5h-5zM877 330h5v5h-5zM917 330h5v5h-5zM682 335h5v5h-5zM717 335h5v5h-5zM887 335h5v5h-5zM787 340h10v5h-10zM882 340h5v5h-5zM717 345h5v5h-5zM757 345h5v5h-5zM767 345h5v5h-5zM782 345h5v5h-5zM792 345h5v5h-5zM862 345h5v5h-5zM692 350h10v5h-10zM727 355h5v5h-5zM807 355h5v5h-5zM832 355h10v5h-10zM847 355h5v5h-5zM877 355h5v5h-5zM722 360h5v5h-5zM792 360h5v5h-5zM732 365h5v5h-5zM777 365h5v5h-5zM807 365h5v5h-5zM837 365h5v5h-5zM697 370h5v5h-5zM747 370h5v5h-5zM707 375h5v5h-5zM842 375h5v5h-5zM867 375h5v5h-5zM712 380h5v5h-5zM767 385h5v5h-5zM827 385h5v5h-5zM837 405h5v5h-5zM867 405h5v5h-5z"/>
<path fill="#d8a02e" d="M782 60h5v5h-5zM822 60h5v5h-5zM717 65h5v5h-5zM682 70h5v5h-5zM912 70h5v5h-5zM732 75h5v5h-5zM792 75h5v5h-5zM877 75h5v5h-5zM787 80h5v5h-5zM802 80h5v5h-5zM762 85h5v5h-5zM707 90h5v5h-5zM742 90h5v5h-5zM757 90h5v5h-5zM807 90h5v5h-5zM877 90h5v5h-5zM772 95h5v5h-5zM852 95h5v5h-5zM877 95h5v5h-5zM902 95h5v5h-5zM682 100h5v5h-5zM732 100h5v5h-5zM762 100h5v5h-5zM917 100h5v5h-5zM737 105h5v5h-5zM777 105h5v5h-5zM827 105h5v5h-5zM867 110h5v5h-5zM837 115h5v5h-5zM702 120h5v5h-5zM732 120h5v5h-5zM802 120h5v5h-5zM677 125h5v5h-5zM742 125h5v5h-5zM607 130h5v5h-5zM632 130h5v5h-5zM677 130h5v5h-5zM717 130h5v5h-5zM742 130h5v5h-5zM777 130h5v5h-5zM877 130h5v5h-5zM917 130h5v5h-5zM817 140h5v5h-5zM597 145h5v5h-5zM642 145h5v5h-5zM702 145h5v5h-5zM742 145h5v5h-5zM817 145h5v5h-5zM882 145h5v5h-5zM557 150h5v5h-5zM722 150h5v5h-5zM827 150h5v5h-5zM642 155h5v5h-5zM712 155h5v5h-5zM877 155h5v5h-5zM917 155h5v5h-5zM642 160h5v5h-5zM767 160h5v5h-5zM562 165h5v5h-5zM682 165h5v5h-5zM737 170h5v5h-5zM782 170h5v5h-5zM797 170h5v5h-5zM922 170h5v5h-5zM602 175h5v5h-5zM652 175h5v5h-5zM877 175h5v5h-5zM762 180h5v5h-5zM827 180h5v5h-5zM897 180h5v5h-5zM912 185h5v5h-5zM747 190h5v5h-5zM577 195h5v5h-5zM647 195h5v5h-5zM732 195h10v5h-10zM752 195h5v5h-5zM597 200h5v5h-5zM702 200h5v5h-5zM607 205h5v5h-5zM652 205h5v5h-5zM662 205h5v5h-5zM817 205h5v5h-5zM972 205h5v5h-5zM582 210h5v5h-5zM727 210h5v5h-5zM582 215h5v5h-5zM622 215h5v5h-5zM852 215h5v5h-5zM642 225h5v5h-5zM777 225h5v5h-5zM787 225h5v5h-5zM927 225h5v5h-5zM667 230h5v5h-5zM817 230h5v5h-5zM737 240h5v5h-5zM762 240h5v5h-5zM877 240h5v5h-5zM772 245h5v5h-5zM837 245h5v5h-5zM772 250h5v5h-5zM712 255h5v5h-5zM752 255h5v5h-5zM767 255h5v5h-5zM867 260h5v5h-5zM742 265h5v5h-5zM787 265h5v5h-5zM802 265h5v5h-5zM817 265h5v5h-5zM837 265h5v5h-5zM867 265h5v5h-5zM732 275h5v5h-5zM812 275h5v5h-5zM647 280h5v5h-5zM817 280h5v5h-5zM832 280h5v5h-5zM877 280h5v5h-5zM917 280h5v5h-5zM672 285h5v5h-5zM812 285h5v5h-5zM927 285h5v5h-5zM827 290h5v5h-5zM697 295h5v5h-5zM757 295h5v5h-5zM767 295h5v5h-5zM807 295h5v5h-5zM852 295h5v5h-5zM742 300h5v5h-5zM712 305h5v5h-5zM887 305h5v5h-5zM677 310h5v5h-5zM722 310h5v5h-5zM887 310h10v5h-10zM707 315h5v5h-5zM877 315h5v5h-5zM787 320h5v5h-5zM812 320h5v5h-5zM872 325h5v5h-5zM762 330h5v5h-5zM782 330h5v5h-5zM812 330h5v5h-5zM822 330h5v5h-5zM847 335h5v5h-5zM727 340h5v5h-5zM797 345h5v5h-5zM862 350h5v5h-5zM732 360h5v5h-5zM862 360h5v5h-5zM772 365h5v5h-5zM842 365h5v5h-5zM777 370h5v5h-5zM822 370h5v5h-5zM742 380h5v5h-5zM872 385h5v5h-5zM897 385h5v5h-5zM787 410h5v5h-5zM802 440h5v5h-5z"/>
<path fill="#11b20a" d="M797 60h5v5h-5zM777 75h5v5h-5zM822 75h5v5h-5zM837 75h5v5h-5zM767 80h5v5h-5zM792 80h5v5h-5zM817 80h5v5h-5zM867 80h5v5h-5zM777 85h5v5h-5zM802 85h15v5h-15zM822 85h5v5h-5zM847 85h5v5h-5zM747 90h5v5h-5zM772 90h5v5h-5zM837 90h5v5h-5zM722 95h5v5h-5zM752 95h5v5h-5zM787 95h5v5h-5zM802 95h10v5h-10zM822 95h5v5h-5zM657 100h5v5h-5zM717 100h5v5h-5zM772 100h5v5h-5zM797 100h5v5h-5zM847 100h5v5h-5zM887 100h5v5h-5zM607 105h5v5h-5zM647 105h5v5h-5zM722 105h5v5h-5zM732 105h5v5h-5zM782 105h5v5h-5zM682 110h5v5h-5zM762 110h5v5h-5zM777 110h5v5h-5zM842 110h5v5h-5zM892 110h5v5h-5zM647 115h5v5h-5zM667 115h5v5h-5zM722 115h5v5h-5zM752 115h5v5h-5zM762 115h5v5h-5zM777 115h5v5h-5zM802 115h5v5h-5zM812 115h5v5h-5zM857 115h5v5h-5zM867 115h5v5h-5zM882 115h15v5h-15zM647 120h5v5h-5zM662 120h10v5h-10zM752 120h5v5h-5zM787 120h10v5h-10zM872 120h5v5h-5zM882 120h5v5h-5zM622 125h5v5h-5zM687 125h5v5h-5zM737 125h5v5h-5zM772 125h5v5h-5zM797 125h5v5h-5zM812 125h5v5h-5zM822 125h5v5h-5zM867 125h5v5h-5zM882 125h5v5h-5zM897 125h5v5h-5zM912 125h5v5h-5zM692 130h5v5h-5zM712 130h5v5h-5zM752 130h5v5h-5zM787 130h5v5h-5zM797 130h5v5h-5zM827 130h5v5h-5zM862 130h5v5h-5zM892 130h5v5h-5zM667 135h5v5h-5zM707 135h5v5h-5zM737 135h5v5h-5zM807 135h5v5h-5zM832 135h5v5h-5zM857 135h5v5h-5zM612 140h5v5h-5zM622 140h5v5h-5zM632 140h5v5h-5zM647 140h5v5h-5zM672 140h5v5h-5zM697 140h5v5h-5zM707 140h10v5h-10zM722 140h5v5h-5zM737 140h5v5h-5zM787 140h5v5h-5zM807 140h10v5h-10zM822 140h5v5h-5zM857 140h5v5h-5zM617 145h5v5h-5zM652 145h10v5h-10zM672 145h5v5h-5zM712 145h5v5h-5zM722 145h5v5h-5zM732 145h5v5h-5zM767 145h5v5h-5zM777 145h5v5h-5zM872 145h5v5h-5zM887 145h5v5h-5zM602 150h5v5h-5zM672 150h10v5h-10zM697 150h5v5h-5zM712 150h10v5h-10zM737 150h5v5h-5zM747 150h5v5h-5zM787 150h10v5h-10zM867 150h15v5h-15zM892 150h10v5h-10zM582 155h5v5h-5zM592 155h5v5h-5zM662 155h5v5h-5zM707 155h5v5h-5zM722 155h10v5h-10zM862 155h15v5h-15zM612 160h5v5h-5zM622 160h5v5h-5zM667 160h5v5h-5zM702 160h5v5h-5zM712 160h5v5h-5zM757 160h5v5h-5zM797 160h5v5h-5zM807 160h5v5h-5zM857 160h5v5h-5zM907 160h5v5h-5zM577 165h5v5h-5zM607 165h5v5h-5zM617 165h5v5h-5zM657 165h5v5h-5zM672 165h5v5h-5zM742 165h5v5h-5zM837 165h5v5h-5zM597 170h5v5h-5zM607 170h5v5h-5zM617 170h5v5h-5zM652 170h5v5h-5zM687 170h5v5h-5zM697 170h5v5h-5zM752 170h5v5h-5zM807 170h10v5h-10zM827 170h5v5h-5zM837 170h5v5h-5zM857 170h10v5h-10zM882 170h5v5h-5zM892 170h5v5h-5zM642 175h5v5h-5zM732 175h5v5h-5zM742 175h5v5h-5zM762 175h5v5h-5zM847 175h10v5h-10zM582 180h5v5h-5zM597 180h5v5h-5zM622 180h5v5h-5zM637 180h5v5h-5zM687 180h5v5h-5zM722 180h5v5h-5zM732 180h5v5h-5zM742 180h5v5h-5zM752 180h5v5h-5zM802 180h5v5h-5zM832 180h5v5h-5zM857 180h5v5h-5zM607 185h5v5h-5zM627 185h5v5h-5zM662 185h5v5h-5zM692 185h5v5h-5zM712 185h5v5h-5zM737 185h5v5h-5zM812 185h5v5h-5zM837 185h5v5h-5zM597 190h10v5h-10zM697 190h5v5h-5zM772 190h5v5h-5zM867 190h15v5h-15zM887 190h5v5h-5zM912 190h5v5h-5zM617 195h10v5h-10zM672 195h5v5h-5zM692 195h5v5h-5zM837 195h5v5h-5zM857 195h10v5h-10zM872 195h10v5h-10zM892 195h5v5h-5zM917 195h5v5h-5zM592 200h5v5h-5zM712 200h5v5h-5zM752 200h5v5h-5zM897 200h10v5h-10zM587 205h5v5h-5zM612 205h5v5h-5zM667 205h5v5h-5zM677 205h5v5h-5zM752 205h5v5h-5zM807 205h5v5h-5zM852 205h5v5h-5zM862 205h10v5h-10zM882 205h5v5h-5zM907 205h5v5h-5zM567 210h5v5h-5zM622 210h5v5h-5zM652 210h10v5h-10zM697 210h5v5h-5zM722 210h5v5h-5zM747 210h5v5h-5zM757 210h5v5h-5zM767 210h10v5h-10zM807 210h5v5h-5zM817 210h5v5h-5zM842 210h10v5h-10zM857 210h10v5h-10zM657 215h5v5h-5zM707 215h5v5h-5zM732 215h5v5h-5zM787 215h5v5h-5zM827 215h5v5h-5zM842 215h10v5h-10zM622 220h5v5h-5zM652 220h5v5h-5zM677 220h5v5h-5zM687 220h10v5h-10zM752 220h5v5h-5zM782 220h5v5h-5zM822 220h5v5h-5zM687 225h5v5h-5zM817 225h5v5h-5zM892 225h5v5h-5zM657 230h5v5h-5zM727 230h5v5h-5zM752 230h5v5h-5zM842 230h5v5h-5zM872 230h5v5h-5zM897 230h5v5h-5zM617 235h5v5h-5zM727 235h15v5h-15zM752 235h5v5h-5zM762 235h5v5h-5zM807 235h5v5h-5zM872 235h5v5h-5zM882 235h5v5h-5zM912 235h5v5h-5zM602 240h5v5h-5zM657 240h10v5h-10zM722 240h5v5h-5zM732 240h5v5h-5zM802 240h5v5h-5zM817 240h5v5h-5zM647 245h5v5h-5zM767 245h5v5h-5zM787 245h5v5h-5zM817 245h5v5h-5zM832 245h5v5h-5zM902 245h5v5h-5zM632 250h10v5h-10zM667 250h5v5h-5zM707 250h5v5h-5zM767 250h5v5h-5zM797 250h15v5h-15zM847 250h5v5h-5zM877 250h5v5h-5zM652 255h5v5h-5zM672 255h10v5h-10zM707 255h5v5h-5zM722 255h5v5h-5zM762 255h5v5h-5zM772 255h10v5h-10zM842 255h5v5h-5zM877 255h10v5h-10zM897 255h10v5h-10zM637 260h5v5h-5zM782 260h5v5h-5zM792 260h5v5h-5zM882 260h5v5h-5zM907 260h5v5h-5zM632 265h5v5h-5zM662 265h10v5h-10zM697 265h5v5h-5zM792 265h5v5h-5zM902 265h5v5h-5zM657 270h10v5h-10zM707 270h5v5h-5zM717 270h5v5h-5zM782 270h5v5h-5zM832 270h5v5h-5zM862 270h5v5h-5zM882 270h5v5h-5zM892 270h5v5h-5zM907 270h5v5h-5zM647 275h5v5h-5zM747 275h5v5h-5zM802 275h5v5h-5zM857 275h5v5h-5zM737 280h15v5h-15zM767 280h5v5h-5zM857 280h5v5h-5zM697 285h5v5h-5zM767 285h5v5h-5zM807 285h5v5h-5zM822 285h5v5h-5zM832 285h15v5h-15zM852 285h5v5h-5zM677 290h5v5h-5zM687 290h5v5h-5zM727 290h5v5h-5zM767 290h5v5h-5zM837 290h15v5h-15zM872 290h5v5h-5zM772 295h5v5h-5zM797 295h5v5h-5zM822 295h5v5h-5zM842 295h5v5h-5zM687 300h5v5h-5zM707 300h5v5h-5zM737 300h5v5h-5zM747 300h5v5h-5zM782 300h5v5h-5zM797 300h15v5h-15zM852 300h5v5h-5zM862 300h10v5h-10zM877 300h5v5h-5zM667 305h5v5h-5zM737 305h5v5h-5zM747 305h5v5h-5zM807 305h5v5h-5zM852 305h10v5h-10zM882 305h5v5h-5zM907 305h5v5h-5zM757 310h5v5h-5zM767 310h5v5h-5zM787 310h5v5h-5zM872 310h5v5h-5zM672 315h10v5h-10zM732 315h10v5h-10zM747 315h5v5h-5zM767 315h5v5h-5zM792 315h10v5h-10zM807 315h10v5h-10zM827 315h5v5h-5zM852 315h10v5h-10zM867 315h5v5h-5zM887 315h5v5h-5zM897 315h5v5h-5zM707 320h5v5h-5zM762 320h5v5h-5zM777 320h5v5h-5zM797 320h5v5h-5zM827 320h5v5h-5zM867 320h5v5h-5zM717 325h5v5h-5zM822 325h5v5h-5zM712 330h5v5h-5zM722 330h5v5h-5zM847 330h5v5h-5zM707 335h5v5h-5zM762 335h5v5h-5zM797 335h5v5h-5zM767 340h10v5h-10zM807 340h5v5h-5zM852 340h5v5h-5zM702 345h5v5h-5zM807 345h5v5h-5zM867 345h10v5h-10zM752 350h5v5h-5zM802 350h5v5h-5zM832 350h5v5h-5zM852 350h5v5h-5zM752 355h5v5h-5zM772 355h5v5h-5zM792 355h5v5h-5zM842 355h5v5h-5zM752 360h10v5h-10zM807 360h5v5h-5zM832 365h5v5h-5zM852 365h5v5h-5zM782 370h5v5h-5zM787 375h10v5h-10zM832 375h5v5h-5zM832 380h5v5h-5zM822 385h5v5h-5zM777 390h5v5h-5z"/>
<path fill="#0f9609" d="M802 60h5v5h-5zM777 65h5v5h-5zM787 65h5v5h-5zM797 65h5v5h-5zM812 65h5v5h-5zM827 65h5v5h-5zM842 65h5v5h-5zM702 70h5v5h-5zM727 70h5v5h-5zM747 70h15v5h-15zM772 70h10v5h-10zM812 70h5v5h-5zM822 70h5v5h-5zM877 70h5v5h-5zM702 75h10v5h-10zM717 75h5v5h-5zM737 75h5v5h-5zM752 75h5v5h-5zM767 75h10v5h-10zM842 75h10v5h-10zM857 75h5v5h-5zM707 80h5v5h-5zM722 80h5v5h-5zM752 80h5v5h-5zM827 80h5v5h-5zM862 80h5v5h-5zM677 85h5v5h-5zM742 85h10v5h-10zM852 85h5v5h-5zM662 90h5v5h-5zM712 90h5v5h-5zM777 90h5v5h-5zM792 90h5v5h-5zM802 90h5v5h-5zM827 90h10v5h-10zM842 90h5v5h-5zM857 90h10v5h-10zM882 90h5v5h-5zM637 95h5v5h-5zM647 95h5v5h-5zM662 95h15v5h-15zM732 95h5v5h-5zM767 95h5v5h-5zM812 95h5v5h-5zM652 100h5v5h-5zM672 100h5v5h-5zM702 100h5v5h-5zM737 100h5v5h-5zM752 100h5v5h-5zM792 100h5v5h-5zM897 100h5v5h-5zM612 105h5v5h-5zM632 105h5v5h-5zM642 105h5v5h-5zM692 105h5v5h-5zM717 105h5v5h-5zM747 105h5v5h-5zM832 105h5v5h-5zM862 105h15v5h-15zM887 105h15v5h-15zM907 105h5v5h-5zM657 110h5v5h-5zM702 110h5v5h-5zM712 110h5v5h-5zM722 110h5v5h-5zM747 110h5v5h-5zM772 110h5v5h-5zM802 110h5v5h-5zM857 110h5v5h-5zM882 110h5v5h-5zM607 115h10v5h-10zM637 115h5v5h-5zM662 115h5v5h-5zM687 115h10v5h-10zM707 115h10v5h-10zM757 115h5v5h-5zM817 115h5v5h-5zM872 115h5v5h-5zM912 115h5v5h-5zM642 120h5v5h-5zM672 120h5v5h-5zM682 120h5v5h-5zM692 120h5v5h-5zM727 120h5v5h-5zM742 120h5v5h-5zM772 120h10v5h-10zM837 120h10v5h-10zM902 120h5v5h-5zM602 125h5v5h-5zM612 125h5v5h-5zM632 125h5v5h-5zM672 125h5v5h-5zM692 125h5v5h-5zM712 125h5v5h-5zM752 125h5v5h-5zM792 125h5v5h-5zM852 125h5v5h-5zM877 125h5v5h-5zM887 125h5v5h-5zM597 130h5v5h-5zM617 130h5v5h-5zM637 130h5v5h-5zM652 130h5v5h-5zM682 130h5v5h-5zM722 130h5v5h-5zM732 130h5v5h-5zM747 130h5v5h-5zM817 130h10v5h-10zM837 130h5v5h-5zM857 130h5v5h-5zM867 130h10v5h-10zM902 130h5v5h-5zM602 135h10v5h-10zM622 135h10v5h-10zM687 135h5v5h-5zM712 135h5v5h-5zM767 135h10v5h-10zM842 135h5v5h-5zM867 135h10v5h-10zM897 135h5v5h-5zM607 140h5v5h-5zM617 140h5v5h-5zM627 140h5v5h-5zM637 140h10v5h-10zM662 140h5v5h-5zM727 140h5v5h-5zM847 140h5v5h-5zM912 140h5v5h-5zM637 145h5v5h-5zM662 145h5v5h-5zM687 145h5v5h-5zM812 145h5v5h-5zM847 145h5v5h-5zM877 145h5v5h-5zM907 145h5v5h-5zM572 150h5v5h-5zM592 150h10v5h-10zM622 150h10v5h-10zM642 150h5v5h-5zM652 150h5v5h-5zM687 150h5v5h-5zM707 150h5v5h-5zM807 150h10v5h-10zM857 150h5v5h-5zM602 155h5v5h-5zM652 155h10v5h-10zM682 155h5v5h-5zM702 155h5v5h-5zM742 155h5v5h-5zM762 155h5v5h-5zM832 155h5v5h-5zM912 155h5v5h-5zM572 160h5v5h-5zM617 160h5v5h-5zM657 160h5v5h-5zM692 160h5v5h-5zM762 160h5v5h-5zM812 160h5v5h-5zM847 160h5v5h-5zM862 160h5v5h-5zM872 160h10v5h-10zM892 160h5v5h-5zM572 165h5v5h-5zM592 165h5v5h-5zM697 165h10v5h-10zM747 165h5v5h-5zM757 165h5v5h-5zM767 165h5v5h-5zM792 165h5v5h-5zM802 165h5v5h-5zM827 165h5v5h-5zM897 165h5v5h-5zM602 170h5v5h-5zM632 170h5v5h-5zM717 170h5v5h-5zM817 170h5v5h-5zM867 170h5v5h-5zM587 175h5v5h-5zM727 175h5v5h-5zM737 175h5v5h-5zM747 175h5v5h-5zM767 175h5v5h-5zM787 175h5v5h-5zM832 175h5v5h-5zM857 175h5v5h-5zM867 175h5v5h-5zM892 175h5v5h-5zM607 180h5v5h-5zM662 180h5v5h-5zM682 180h5v5h-5zM702 180h5v5h-5zM712 180h5v5h-5zM807 180h5v5h-5zM817 180h5v5h-5zM862 180h20v5h-20zM907 180h5v5h-5zM927 180h5v5h-5zM602 185h5v5h-5zM622 185h5v5h-5zM642 185h10v5h-10zM657 185h5v5h-5zM672 185h5v5h-5zM702 185h5v5h-5zM722 185h10v5h-10zM742 185h5v5h-5zM752 185h10v5h-10zM772 185h5v5h-5zM792 185h5v5h-5zM807 185h5v5h-5zM817 185h5v5h-5zM842 185h5v5h-5zM862 185h10v5h-10zM882 185h5v5h-5zM917 185h5v5h-5zM607 190h5v5h-5zM627 190h5v5h-5zM662 190h5v5h-5zM692 190h5v5h-5zM752 190h5v5h-5zM842 190h10v5h-10zM662 195h5v5h-5zM727 195h5v5h-5zM742 195h5v5h-5zM777 195h5v5h-5zM797 195h10v5h-10zM847 195h5v5h-5zM882 195h5v5h-5zM907 195h5v5h-5zM577 200h15v5h-15zM622 200h15v5h-15zM662 200h10v5h-10zM687 200h5v5h-5zM707 200h5v5h-5zM782 200h5v5h-5zM827 200h5v5h-5zM837 200h5v5h-5zM872 200h5v5h-5zM887 200h5v5h-5zM907 200h5v5h-5zM592 205h5v5h-5zM617 205h5v5h-5zM627 205h5v5h-5zM697 205h5v5h-5zM717 205h5v5h-5zM737 205h5v5h-5zM812 205h5v5h-5zM827 205h15v5h-15zM587 210h5v5h-5zM602 210h5v5h-5zM687 210h10v5h-10zM777 210h5v5h-5zM787 210h10v5h-10zM812 210h5v5h-5zM912 210h5v5h-5zM927 210h5v5h-5zM587 215h5v5h-5zM597 215h5v5h-5zM612 215h5v5h-5zM692 215h10v5h-10zM727 215h5v5h-5zM772 215h5v5h-5zM822 215h5v5h-5zM857 215h5v5h-5zM907 215h5v5h-5zM597 220h5v5h-5zM612 220h5v5h-5zM627 220h5v5h-5zM637 220h5v5h-5zM667 220h10v5h-10zM737 220h5v5h-5zM747 220h5v5h-5zM842 220h5v5h-5zM887 220h5v5h-5zM622 225h5v5h-5zM647 225h5v5h-5zM667 225h5v5h-5zM757 225h5v5h-5zM797 225h5v5h-5zM807 225h5v5h-5zM837 225h10v5h-10zM862 225h5v5h-5zM872 225h5v5h-5zM907 225h10v5h-10zM602 230h5v5h-5zM612 230h5v5h-5zM622 230h5v5h-5zM637 230h5v5h-5zM652 230h5v5h-5zM682 230h5v5h-5zM707 230h5v5h-5zM722 230h5v5h-5zM902 230h10v5h-10zM922 230h5v5h-5zM627 235h5v5h-5zM642 235h5v5h-5zM677 235h5v5h-5zM687 235h5v5h-5zM712 235h5v5h-5zM822 235h5v5h-5zM837 235h5v5h-5zM847 235h5v5h-5zM857 235h5v5h-5zM922 235h5v5h-5zM677 240h5v5h-5zM692 240h5v5h-5zM812 240h5v5h-5zM832 240h15v5h-15zM867 240h5v5h-5zM902 240h5v5h-5zM917 240h10v5h-10zM937 240h5v5h-5zM627 245h5v5h-5zM642 245h5v5h-5zM652 245h5v5h-5zM722 245h5v5h-5zM732 245h5v5h-5zM757 245h5v5h-5zM792 245h5v5h-5zM802 245h5v5h-5zM827 245h5v5h-5zM852 245h5v5h-5zM887 245h5v5h-5zM612 250h5v5h-5zM622 250h5v5h-5zM657 250h5v5h-5zM792 250h5v5h-5zM852 250h10v5h-10zM917 250h5v5h-5zM607 255h5v5h-5zM617 255h5v5h-5zM627 255h5v5h-5zM697 255h5v5h-5zM717 255h5v5h-5zM807 255h5v5h-5zM862 255h5v5h-5zM887 255h10v5h-10zM612 260h5v5h-5zM657 260h5v5h-5zM672 260h5v5h-5zM682 260h5v5h-5zM737 260h5v5h-5zM762 260h5v5h-5zM887 260h5v5h-5zM917 260h5v5h-5zM627 265h5v5h-5zM707 265h5v5h-5zM737 265h5v5h-5zM757 265h5v5h-5zM822 265h5v5h-5zM877 265h5v5h-5zM912 265h5v5h-5zM632 270h5v5h-5zM642 270h10v5h-10zM737 270h5v5h-5zM747 270h5v5h-5zM787 270h5v5h-5zM802 270h10v5h-10zM822 270h5v5h-5zM842 270h5v5h-5zM877 270h5v5h-5zM897 270h5v5h-5zM627 275h5v5h-5zM637 275h10v5h-10zM862 275h10v5h-10zM882 275h5v5h-5zM932 275h5v5h-5zM657 280h5v5h-5zM667 280h10v5h-10zM707 280h5v5h-5zM717 280h10v5h-10zM732 280h5v5h-5zM772 280h5v5h-5zM822 280h5v5h-5zM872 280h5v5h-5zM887 280h5v5h-5zM907 280h5v5h-5zM662 285h10v5h-10zM687 285h5v5h-5zM702 285h5v5h-5zM712 285h5v5h-5zM722 285h5v5h-5zM747 285h5v5h-5zM787 285h5v5h-5zM897 285h5v5h-5zM642 290h5v5h-5zM682 290h5v5h-5zM722 290h5v5h-5zM787 290h5v5h-5zM812 290h5v5h-5zM887 290h5v5h-5zM657 295h5v5h-5zM787 295h10v5h-10zM862 295h5v5h-5zM872 295h10v5h-10zM897 295h5v5h-5zM662 300h5v5h-5zM692 300h5v5h-5zM717 300h20v5h-20zM752 300h10v5h-10zM777 300h5v5h-5zM847 300h5v5h-5zM857 300h5v5h-5zM872 300h5v5h-5zM727 305h5v5h-5zM792 305h15v5h-15zM867 305h5v5h-5zM897 305h5v5h-5zM667 310h5v5h-5zM717 310h5v5h-5zM747 310h5v5h-5zM802 310h5v5h-5zM822 310h10v5h-10zM862 310h5v5h-5zM712 315h5v5h-5zM742 315h5v5h-5zM757 315h5v5h-5zM822 315h5v5h-5zM832 315h5v5h-5zM882 315h5v5h-5zM902 315h10v5h-10zM692 320h5v5h-5zM717 320h5v5h-5zM742 320h5v5h-5zM767 320h5v5h-5zM802 320h10v5h-10zM837 320h5v5h-5zM872 320h5v5h-5zM892 320h5v5h-5zM672 325h5v5h-5zM692 325h10v5h-10zM772 325h5v5h-5zM792 325h5v5h-5zM807 325h10v5h-10zM887 325h5v5h-5zM692 330h5v5h-5zM727 330h5v5h-5zM767 330h5v5h-5zM832 330h5v5h-5zM887 330h5v5h-5zM687 335h5v5h-5zM712 335h5v5h-5zM727 335h5v5h-5zM832 335h5v5h-5zM872 335h10v5h-10zM892 335h10v5h-10zM692 340h5v5h-5zM782 340h5v5h-5zM892 340h5v5h-5zM732 345h5v5h-5zM747 345h5v5h-5zM762 345h5v5h-5zM802 345h5v5h-5zM812 345h10v5h-10zM837 345h5v5h-5zM852 345h5v5h-5zM882 345h5v5h-5zM717 350h15v5h-15zM737 350h15v5h-15zM772 350h5v5h-5zM857 350h5v5h-5zM712 355h5v5h-5zM742 355h10v5h-10zM787 355h5v5h-5zM817 355h5v5h-5zM852 355h5v5h-5zM762 360h5v5h-5zM772 360h5v5h-5zM787 360h5v5h-5zM812 360h5v5h-5zM852 360h10v5h-10zM872 360h5v5h-5zM722 365h10v5h-10zM742 365h10v5h-10zM767 365h5v5h-5zM782 365h5v5h-5zM797 365h5v5h-5zM817 365h10v5h-10zM722 370h10v5h-10zM772 370h5v5h-5zM812 370h5v5h-5zM837 370h5v5h-5zM852 370h5v5h-5zM742 375h5v5h-5zM767 375h10v5h-10zM782 375h5v5h-5zM847 375h5v5h-5zM747 380h5v5h-5zM757 380h5v5h-5zM797 380h5v5h-5zM847 380h5v5h-5zM772 385h5v5h-5zM797 385h5v5h-5zM812 385h5v5h-5zM832 385h5v5h-5zM752 390h5v5h-5zM772 390h5v5h-5zM797 390h10v5h-10zM817 390h5v5h-5zM837 390h5v5h-5zM777 395h10v5h-10zM792 395h5v5h-5zM822 395h10v5h-10zM772 400h5v5h-5zM812 400h5v5h-5z"/>
<path fill="#14cd0c" d="M757 105h5v5h-5zM772 115h5v5h-5zM712 120h5v5h-5zM832 120h5v5h-5zM747 125h5v5h-5zM667 130h5v5h-5zM827 135h5v5h-5zM697 145h5v5h-5zM757 155h5v5h-5zM727 165h5v5h-5zM752 175h5v5h-5zM777 180h5v5h-5zM802 185h5v5h-5zM607 195h5v5h-5zM882 200h5v5h-5zM672 205h5v5h-5zM842 205h5v5h-5zM712 210h5v5h-5zM802 210h5v5h-5zM787 220h5v5h-5zM662 230h5v5h-5zM702 235h5v5h-5zM697 245h5v5h-5zM842 245h5v5h-5zM857 260h10v5h-10zM827 275h5v5h-5zM697 280h5v5h-5zM707 295h5v5h-5zM762 300h5v5h-5zM817 310h5v5h-5zM727 325h5v5h-5zM837 330h5v5h-5zM817 340h5v5h-5zM782 360h5v5h-5z"/>
</g>
</g>
<text transform="translate(525.5,50) scale(1.13,1)" font-size="34.5" font-weight="bold" fill="#fff" stroke="#fff" stroke-width="0.6">(b)</text>
<text x="948" y="83" font-size="44" font-weight="bold" fill="#6ad84a">Pd</text>
<text x="948" y="469" font-size="44" font-weight="bold" fill="#ff1a1a">Ni</text>

<!-- chart -->
<rect x="12" y="532" width="1000" height="794" fill="#fdfdfd"/>
<text transform="translate(27,577) scale(1.2,1)" font-size="33" font-weight="bold" fill="#000" stroke="#000" stroke-width="0.8">(c)</text>
<g fill="none" stroke="#000" stroke-width="3">
<rect x="111.3" y="548.7" width="880.3" height="658"/>
<line x1="991.6" y1="545" x2="991.6" y2="549"/>
</g>
<g stroke="#000" stroke-width="3" fill="none">
<line x1="99" y1="549.0" x2="111" y2="549.0"/><line x1="99" y1="643.0" x2="111" y2="643.0"/><line x1="99" y1="737.0" x2="111" y2="737.0"/><line x1="99" y1="831.0" x2="111" y2="831.0"/><line x1="99" y1="925.0" x2="111" y2="925.0"/><line x1="99" y1="1019.0" x2="111" y2="1019.0"/><line x1="99" y1="1113.0" x2="111" y2="1113.0"/><line x1="99" y1="1207.0" x2="111" y2="1207.0"/>
<line x1="221.4" y1="1207" x2="221.4" y2="1220"/><line x1="386.4" y1="1207" x2="386.4" y2="1220"/><line x1="551.4" y1="1207" x2="551.4" y2="1220"/><line x1="716.4" y1="1207" x2="716.4" y2="1220"/><line x1="881.4" y1="1207" x2="881.4" y2="1220"/>
<line x1="138.9" y1="1207" x2="138.9" y2="1214"/><line x1="303.9" y1="1207" x2="303.9" y2="1214"/><line x1="468.9" y1="1207" x2="468.9" y2="1214"/><line x1="633.9" y1="1207" x2="633.9" y2="1214"/><line x1="798.9" y1="1207" x2="798.9" y2="1214"/><line x1="963.9" y1="1207" x2="963.9" y2="1214"/>
<line x1="221.4" y1="549" x2="221.4" y2="562"/><line x1="386.4" y1="549" x2="386.4" y2="562"/><line x1="551.4" y1="549" x2="551.4" y2="562"/><line x1="716.4" y1="549" x2="716.4" y2="562"/><line x1="881.4" y1="549" x2="881.4" y2="562"/>
<line x1="138.9" y1="549" x2="138.9" y2="556"/><line x1="303.9" y1="549" x2="303.9" y2="556"/><line x1="468.9" y1="549" x2="468.9" y2="556"/><line x1="633.9" y1="549" x2="633.9" y2="556"/><line x1="798.9" y1="549" x2="798.9" y2="556"/><line x1="963.9" y1="549" x2="963.9" y2="556"/>
</g>
<g clip-path="url(#cc)" fill="none" stroke-width="3.3" stroke-linejoin="miter">
<polyline points="111.8,1147.8 121.5,1162.5 132.5,1169.9 142.5,1136.2 151.5,1207 155.6,1207 161.1,1187.2 171.6,1174.7 175.4,1207 192.5,1207 200,1132.8 218.8,1207 228.3,1068.4 238.5,1097.8 247.5,1070.6 256.6,1003.9 266.8,1007.7 277.4,986.3 286,1091 296.6,899.1 315.8,999.4 325.3,901.4 335.5,979.4 344.5,988.5 354.7,740.7 363.8,844.8 383,829 392.5,887.8 421.7,718.7 431.3,781.2 441,900.9 450.3,802.9 460.2,754 469.5,937.8 479.3,692.5 488,888.6 498.5,925.5 508.2,853.4 517.8,829.7 527.5,977.3 537.2,808.3 545.3,748.6 555.8,649 566.1,797.5 575.2,876 585.1,703.3 593.6,826.6 604.1,749.7 611.7,813.9 622.9,709.9 633.5,965.7 650.3,709 661.5,820.3 672.4,794.9 683.2,907.5 689.3,881 699.5,875 711.3,864.6 722,884 727.8,853 738.5,965.7 749.3,740.6 760.6,814 765.9,946.2 776.7,764.3 788.5,843.1 803.9,919.1 814.7,884.7 826.5,859.4 837.4,789.7 853.5,991.4 864.5,888.3 875.9,844.9 881.7,866.6 892.9,847.6 903.4,1079.3 908.7,1063.5 931,1152 942.1,1137.3 947.7,1113.9 959.1,1162 969.7,1160.8 980.8,1102.2 986.1,1135 991.3,1139.7" stroke="#000"/>
<polyline points="111.6,1180.6 113.6,1165 123,1164 133.1,1168 143.5,1151.5 152.7,1140.8 161.2,1106 164.4,1101.7 170.4,1093 180.1,1072.8 189.2,1040.2 198.2,1020.3 210,976 218.1,974.2 226.3,966 238.9,948.8 248,955.5 257.8,946.5 267.6,912.7 286.9,934.2 297,916 306.1,931.9 316.3,879.9 325.3,887.8 335.5,890 345.7,898 354.7,896.8 363.8,833.5 374,858.4 383.5,876.5 402.2,823.3 411.3,878.7 421.8,869.8 431.5,834.8 440.4,826.3 448.9,837 459.1,843.2 469.4,829 479.2,850.4 489.2,818.3 497.4,818.3 509.1,836.4 520,855.4 527.4,863.3 537.2,830.8 545.6,839.6 555.9,879.7 566.1,825.4 575.5,866.8 584.4,882.4 594,828.5 604,885.5 611.8,899.8 623,867.7 632.4,866 644.3,815.7 649.8,864.6 661.3,881.5 672.5,844.5 681.8,875.7 688.5,871.7 700,923 711.3,868.1 722,859.2 729.4,877.3 738.4,910 749.2,894.5 760.7,915.8 766.5,887.5 776.7,901 788.5,943.5 803.9,926.3 814.7,938.1 826.5,911 837.3,900.5 842.7,923.5 853.3,922.6 864,942.5 874.3,948.9 893.3,960.6 903.3,956.1 908.7,973.3 920.5,957 931.3,967 942.2,1066.5 947.6,1059.3 957.4,1088 980.8,1176 986.1,1161.4 991.3,1172.5" stroke="#ff0a1a"/>
</g>
<line x1="803" y1="652.3" x2="885" y2="652.3" stroke="#000" stroke-width="3.2"/>
<line x1="803" y1="696.2" x2="885" y2="696.2" stroke="#ff0a1a" stroke-width="3.2"/>
<text transform="translate(892,665) scale(0.965,1)" font-size="37.5" letter-spacing="0.6" fill="#000">Ni</text>
<text transform="translate(892,708.5) scale(0.965,1)" font-size="37.5" fill="#000">Pd</text>
<g font-size="37" fill="#000" text-anchor="middle">
<text transform="translate(221.4,1256.5) scale(0.95,1)">3</text><text transform="translate(386.4,1256.5) scale(0.95,1)">6</text><text transform="translate(551.4,1256.5) scale(0.95,1)">9</text><text transform="translate(716.4,1256.5) scale(0.95,1)">12</text><text transform="translate(881.4,1256.5) scale(0.95,1)">15</text>
</g>
<text transform="translate(551,1314) scale(1.035,1)" font-size="35" fill="#000" text-anchor="middle">distance / nm</text>
<text transform="translate(57,878) rotate(-90) scale(1.024,1)" font-size="36" fill="#000" text-anchor="middle">EELS intensity / a.u.</text>
</svg>
</body></html>
